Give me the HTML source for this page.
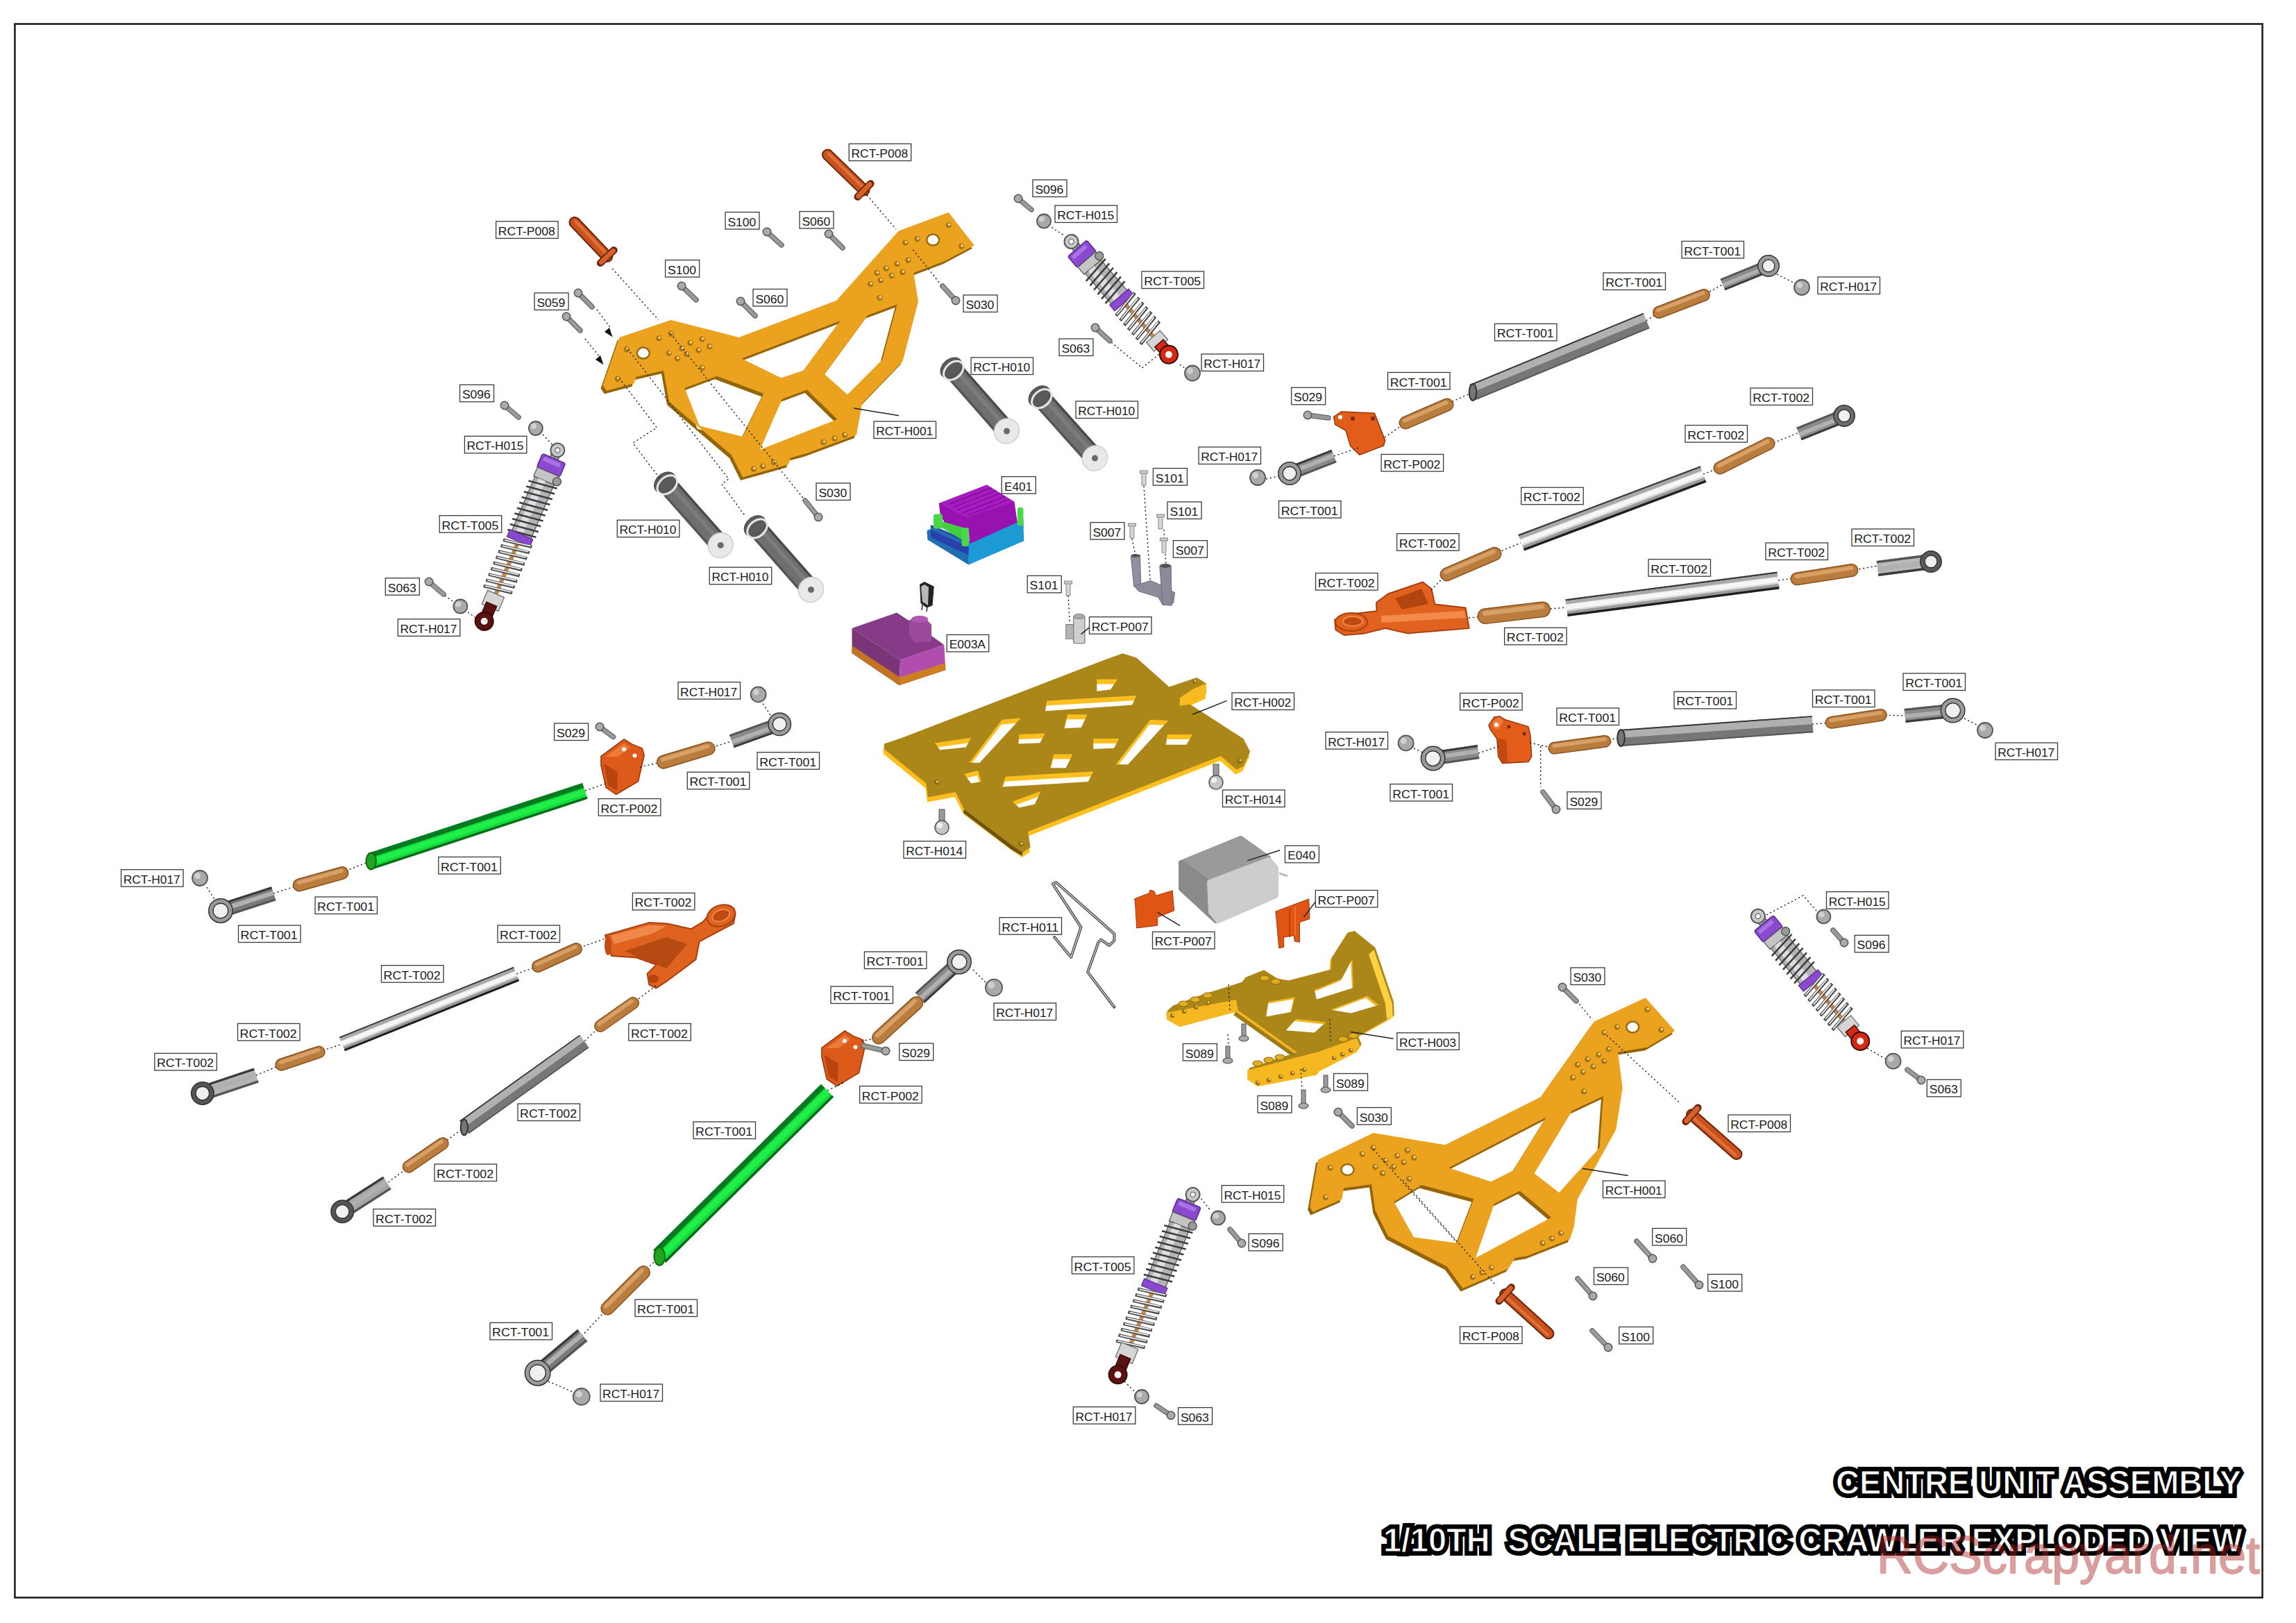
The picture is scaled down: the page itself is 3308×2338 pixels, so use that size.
<!DOCTYPE html>
<html><head><meta charset="utf-8"><title>Centre Unit Assembly</title>
<style>
html,body{margin:0;padding:0;background:#fff;}
body{width:3308px;height:2338px;overflow:hidden;}
svg{display:block;}
.lb{font-family:"Liberation Sans",sans-serif;font-size:16.3px;fill:#1a1a1a;}
.tt0{font-family:"Liberation Sans",sans-serif;font-weight:bold;font-size:48px;fill:#000;stroke:#000;stroke-width:12px;stroke-linejoin:miter;stroke-miterlimit:1.6;}
.tt1{font-family:"Liberation Sans",sans-serif;font-weight:bold;font-size:48px;fill:#fff;stroke:#000;stroke-width:1.2px;}
.wm{font-family:"Liberation Sans",sans-serif;font-size:76px;fill:#ad2424;stroke:#ad2424;stroke-width:1.8px;stroke-linejoin:round;opacity:0.44;}
</style></head><body>
<svg width="3308" height="2338" viewBox="0 0 3308 2338">
<rect width="3308" height="2338" fill="#fff"/>
<rect x="21.4" y="34.5" width="3238.2" height="2266.9" fill="none" stroke="#1f1f1f" stroke-width="2.6"/>
<path d="M892.4,486.0 L966.6,461.0 L1064.6,486.0 L1205.0,433.0 L1295.0,332.4 L1366.7,306.0 L1403.8,353.6 L1361.4,376.0 L1316.3,393.0 L1323.0,434.4 L1300.5,520.5 L1242.0,581.5 L1234.0,626.5 L1162.7,653.0 L1138.8,659.6 L1136.0,669.0 L1070.0,687.5 L1054.0,655.6 L964.0,578.8 L956.0,533.8 L916.2,543.0 L913.6,552.3 L873.8,563.0 L868.5,555.0ZM986.5,559.0 L1032.8,541.7 L1100.4,567.0 L1070.0,629.0 L1007.7,613.3ZM1127.0,574.8 L1162.7,561.6 L1206.4,604.0 L1095.0,647.7ZM1068.6,516.5 L1210.4,462.2 L1157.4,533.8 L1125.6,544.4ZM1187.8,539.0 L1250.0,454.3 L1292.5,438.4 L1271.3,517.9 L1221.0,568.2Z" fill="#946409" fill-rule="evenodd" transform="translate(-3.0,4.5)"/>
<path d="M892.4,486.0 L966.6,461.0 L1064.6,486.0 L1205.0,433.0 L1295.0,332.4 L1366.7,306.0 L1403.8,353.6 L1361.4,376.0 L1316.3,393.0 L1323.0,434.4 L1300.5,520.5 L1242.0,581.5 L1234.0,626.5 L1162.7,653.0 L1138.8,659.6 L1136.0,669.0 L1070.0,687.5 L1054.0,655.6 L964.0,578.8 L956.0,533.8 L916.2,543.0 L913.6,552.3 L873.8,563.0 L868.5,555.0ZM986.5,559.0 L1032.8,541.7 L1100.4,567.0 L1070.0,629.0 L1007.7,613.3ZM1127.0,574.8 L1162.7,561.6 L1206.4,604.0 L1095.0,647.7ZM1068.6,516.5 L1210.4,462.2 L1157.4,533.8 L1125.6,544.4ZM1187.8,539.0 L1250.0,454.3 L1292.5,438.4 L1271.3,517.9 L1221.0,568.2Z" fill="#eba21f" fill-rule="evenodd"/>
<circle cx="903.0" cy="503.3" r="4.2" fill="#a87510"/>
<circle cx="904.0" cy="502.3" r="1.9" fill="#f7d080"/>
<circle cx="889.7" cy="545.7" r="4.2" fill="#a87510"/>
<circle cx="890.7" cy="544.7" r="1.9" fill="#f7d080"/>
<circle cx="966.6" cy="480.8" r="4.2" fill="#a87510"/>
<circle cx="967.6" cy="479.8" r="1.9" fill="#f7d080"/>
<circle cx="949.4" cy="487.4" r="4.2" fill="#a87510"/>
<circle cx="950.4" cy="486.4" r="1.9" fill="#f7d080"/>
<circle cx="982.5" cy="502.0" r="4.2" fill="#a87510"/>
<circle cx="983.5" cy="501.0" r="1.9" fill="#f7d080"/>
<circle cx="994.4" cy="494.0" r="4.2" fill="#a87510"/>
<circle cx="995.4" cy="493.0" r="1.9" fill="#f7d080"/>
<circle cx="1011.6" cy="488.7" r="4.2" fill="#a87510"/>
<circle cx="1012.6" cy="487.7" r="1.9" fill="#f7d080"/>
<circle cx="1022.2" cy="499.3" r="4.2" fill="#a87510"/>
<circle cx="1023.2" cy="498.3" r="1.9" fill="#f7d080"/>
<circle cx="1006.3" cy="504.6" r="4.2" fill="#a87510"/>
<circle cx="1007.3" cy="503.6" r="1.9" fill="#f7d080"/>
<circle cx="989.1" cy="509.9" r="4.2" fill="#a87510"/>
<circle cx="990.1" cy="508.9" r="1.9" fill="#f7d080"/>
<circle cx="975.9" cy="516.5" r="4.2" fill="#a87510"/>
<circle cx="976.9" cy="515.5" r="1.9" fill="#f7d080"/>
<circle cx="963.9" cy="508.6" r="4.2" fill="#a87510"/>
<circle cx="964.9" cy="507.6" r="1.9" fill="#f7d080"/>
<circle cx="1011.6" cy="529.8" r="4.2" fill="#a87510"/>
<circle cx="1012.6" cy="528.8" r="1.9" fill="#f7d080"/>
<circle cx="1366.7" cy="324.4" r="4.2" fill="#a87510"/>
<circle cx="1367.7" cy="323.4" r="1.9" fill="#f7d080"/>
<circle cx="1304.4" cy="349.6" r="4.2" fill="#a87510"/>
<circle cx="1305.4" cy="348.6" r="1.9" fill="#f7d080"/>
<circle cx="1321.6" cy="344.3" r="4.2" fill="#a87510"/>
<circle cx="1322.6" cy="343.3" r="1.9" fill="#f7d080"/>
<circle cx="1385.2" cy="354.9" r="4.2" fill="#a87510"/>
<circle cx="1386.2" cy="353.9" r="1.9" fill="#f7d080"/>
<circle cx="1263.4" cy="393.3" r="4.2" fill="#a87510"/>
<circle cx="1264.4" cy="392.3" r="1.9" fill="#f7d080"/>
<circle cx="1276.6" cy="386.7" r="4.2" fill="#a87510"/>
<circle cx="1277.6" cy="385.7" r="1.9" fill="#f7d080"/>
<circle cx="1292.5" cy="380.1" r="4.2" fill="#a87510"/>
<circle cx="1293.5" cy="379.1" r="1.9" fill="#f7d080"/>
<circle cx="1308.4" cy="374.8" r="4.2" fill="#a87510"/>
<circle cx="1309.4" cy="373.8" r="1.9" fill="#f7d080"/>
<circle cx="1254.1" cy="409.2" r="4.2" fill="#a87510"/>
<circle cx="1255.1" cy="408.2" r="1.9" fill="#f7d080"/>
<circle cx="1268.7" cy="403.9" r="4.2" fill="#a87510"/>
<circle cx="1269.7" cy="402.9" r="1.9" fill="#f7d080"/>
<circle cx="1284.6" cy="397.3" r="4.2" fill="#a87510"/>
<circle cx="1285.6" cy="396.3" r="1.9" fill="#f7d080"/>
<circle cx="1300.5" cy="392.0" r="4.2" fill="#a87510"/>
<circle cx="1301.5" cy="391.0" r="1.9" fill="#f7d080"/>
<circle cx="1267.3" cy="429.1" r="4.2" fill="#a87510"/>
<circle cx="1268.3" cy="428.1" r="1.9" fill="#f7d080"/>
<circle cx="1186.5" cy="637.1" r="4.2" fill="#a87510"/>
<circle cx="1187.5" cy="636.1" r="1.9" fill="#f7d080"/>
<circle cx="1202.4" cy="631.8" r="4.2" fill="#a87510"/>
<circle cx="1203.4" cy="630.8" r="1.9" fill="#f7d080"/>
<circle cx="1217.0" cy="626.5" r="4.2" fill="#a87510"/>
<circle cx="1218.0" cy="625.5" r="1.9" fill="#f7d080"/>
<circle cx="1085.8" cy="675.5" r="4.2" fill="#a87510"/>
<circle cx="1086.8" cy="674.5" r="1.9" fill="#f7d080"/>
<circle cx="1099.1" cy="671.6" r="4.2" fill="#a87510"/>
<circle cx="1100.1" cy="670.6" r="1.9" fill="#f7d080"/>
<circle cx="1115.0" cy="666.4" r="4.2" fill="#a87510"/>
<circle cx="1116.0" cy="665.4" r="1.9" fill="#f7d080"/>
<ellipse cx="926.8" cy="508.6" rx="9" ry="8" fill="#fff" stroke="#9a6c0e" stroke-width="2.5"/>
<ellipse cx="1344.2" cy="345.6" rx="9" ry="8" fill="#fff" stroke="#9a6c0e" stroke-width="2.5"/>
<path d="M1899.1,1670.4 L1978.6,1632.0 L2082.0,1649.2 L2219.8,1580.3 L2296.6,1471.7 L2370.8,1437.2 L2413.2,1484.9 L2373.4,1508.8 L2331.0,1515.4 L2337.7,1567.0 L2328.4,1626.7 L2272.8,1727.4 L2267.8,1766.6 L2262.0,1785.0 L2201.0,1809.0 L2182.8,1812.0 L2175.7,1823.3 L2172.9,1827.5 L2107.7,1855.9 L2085.0,1824.7 L2000.0,1780.8 L1981.3,1743.3 L1976.0,1706.0 L1936.0,1711.5 L1933.6,1727.4 L1891.2,1746.0 L1887.2,1738.0ZM2008.5,1731.2 L2048.0,1707.0 L2123.3,1727.0 L2099.2,1790.7 L2036.8,1782.2ZM2153.0,1734.0 L2189.9,1715.6 L2235.2,1753.8 L2126.0,1812.0ZM2087.3,1682.3 L2227.7,1609.5 L2180.0,1686.3 L2148.2,1702.2ZM2210.5,1690.3 L2264.8,1600.2 L2309.9,1579.0 L2304.6,1653.2 L2246.3,1718.0Z" fill="#946409" fill-rule="evenodd" transform="translate(-3.0,4.5)"/>
<path d="M1899.1,1670.4 L1978.6,1632.0 L2082.0,1649.2 L2219.8,1580.3 L2296.6,1471.7 L2370.8,1437.2 L2413.2,1484.9 L2373.4,1508.8 L2331.0,1515.4 L2337.7,1567.0 L2328.4,1626.7 L2272.8,1727.4 L2267.8,1766.6 L2262.0,1785.0 L2201.0,1809.0 L2182.8,1812.0 L2175.7,1823.3 L2172.9,1827.5 L2107.7,1855.9 L2085.0,1824.7 L2000.0,1780.8 L1981.3,1743.3 L1976.0,1706.0 L1936.0,1711.5 L1933.6,1727.4 L1891.2,1746.0 L1887.2,1738.0ZM2008.5,1731.2 L2048.0,1707.0 L2123.3,1727.0 L2099.2,1790.7 L2036.8,1782.2ZM2153.0,1734.0 L2189.9,1715.6 L2235.2,1753.8 L2126.0,1812.0ZM2087.3,1682.3 L2227.7,1609.5 L2180.0,1686.3 L2148.2,1702.2ZM2210.5,1690.3 L2264.8,1600.2 L2309.9,1579.0 L2304.6,1653.2 L2246.3,1718.0Z" fill="#eba21f" fill-rule="evenodd"/>
<circle cx="1916.4" cy="1682.3" r="4.2" fill="#a87510"/>
<circle cx="1917.4" cy="1681.3" r="1.9" fill="#f7d080"/>
<circle cx="1909.7" cy="1724.7" r="4.2" fill="#a87510"/>
<circle cx="1910.7" cy="1723.7" r="1.9" fill="#f7d080"/>
<circle cx="1978.6" cy="1653.2" r="4.2" fill="#a87510"/>
<circle cx="1979.6" cy="1652.2" r="1.9" fill="#f7d080"/>
<circle cx="1962.7" cy="1662.5" r="4.2" fill="#a87510"/>
<circle cx="1963.7" cy="1661.5" r="1.9" fill="#f7d080"/>
<circle cx="2013.0" cy="1665.0" r="4.2" fill="#a87510"/>
<circle cx="2014.0" cy="1664.0" r="1.9" fill="#f7d080"/>
<circle cx="2027.7" cy="1657.2" r="4.2" fill="#a87510"/>
<circle cx="2028.7" cy="1656.2" r="1.9" fill="#f7d080"/>
<circle cx="2037.0" cy="1667.7" r="4.2" fill="#a87510"/>
<circle cx="2038.0" cy="1666.7" r="1.9" fill="#f7d080"/>
<circle cx="2022.4" cy="1674.4" r="4.2" fill="#a87510"/>
<circle cx="2023.4" cy="1673.4" r="1.9" fill="#f7d080"/>
<circle cx="2007.8" cy="1681.0" r="4.2" fill="#a87510"/>
<circle cx="2008.8" cy="1680.0" r="1.9" fill="#f7d080"/>
<circle cx="1991.9" cy="1690.3" r="4.2" fill="#a87510"/>
<circle cx="1992.9" cy="1689.3" r="1.9" fill="#f7d080"/>
<circle cx="1981.3" cy="1681.0" r="4.2" fill="#a87510"/>
<circle cx="1982.3" cy="1680.0" r="1.9" fill="#f7d080"/>
<circle cx="1995.9" cy="1671.7" r="4.2" fill="#a87510"/>
<circle cx="1996.9" cy="1670.7" r="1.9" fill="#f7d080"/>
<circle cx="2030.3" cy="1698.2" r="4.2" fill="#a87510"/>
<circle cx="2031.3" cy="1697.2" r="1.9" fill="#f7d080"/>
<circle cx="2373.4" cy="1454.4" r="4.2" fill="#a87510"/>
<circle cx="2374.4" cy="1453.4" r="1.9" fill="#f7d080"/>
<circle cx="2311.2" cy="1487.6" r="4.2" fill="#a87510"/>
<circle cx="2312.2" cy="1486.6" r="1.9" fill="#f7d080"/>
<circle cx="2329.7" cy="1479.6" r="4.2" fill="#a87510"/>
<circle cx="2330.7" cy="1478.6" r="1.9" fill="#f7d080"/>
<circle cx="2393.3" cy="1483.6" r="4.2" fill="#a87510"/>
<circle cx="2394.3" cy="1482.6" r="1.9" fill="#f7d080"/>
<circle cx="2272.8" cy="1533.9" r="4.2" fill="#a87510"/>
<circle cx="2273.8" cy="1532.9" r="1.9" fill="#f7d080"/>
<circle cx="2287.3" cy="1526.0" r="4.2" fill="#a87510"/>
<circle cx="2288.3" cy="1525.0" r="1.9" fill="#f7d080"/>
<circle cx="2303.2" cy="1519.4" r="4.2" fill="#a87510"/>
<circle cx="2304.2" cy="1518.4" r="1.9" fill="#f7d080"/>
<circle cx="2317.8" cy="1511.4" r="4.2" fill="#a87510"/>
<circle cx="2318.8" cy="1510.4" r="1.9" fill="#f7d080"/>
<circle cx="2266.1" cy="1552.5" r="4.2" fill="#a87510"/>
<circle cx="2267.1" cy="1551.5" r="1.9" fill="#f7d080"/>
<circle cx="2280.7" cy="1544.5" r="4.2" fill="#a87510"/>
<circle cx="2281.7" cy="1543.5" r="1.9" fill="#f7d080"/>
<circle cx="2295.3" cy="1536.6" r="4.2" fill="#a87510"/>
<circle cx="2296.3" cy="1535.6" r="1.9" fill="#f7d080"/>
<circle cx="2311.2" cy="1528.6" r="4.2" fill="#a87510"/>
<circle cx="2312.2" cy="1527.6" r="1.9" fill="#f7d080"/>
<circle cx="2282.0" cy="1572.4" r="4.2" fill="#a87510"/>
<circle cx="2283.0" cy="1571.4" r="1.9" fill="#f7d080"/>
<circle cx="2222.4" cy="1791.0" r="4.2" fill="#a87510"/>
<circle cx="2223.4" cy="1790.0" r="1.9" fill="#f7d080"/>
<circle cx="2235.7" cy="1784.3" r="4.2" fill="#a87510"/>
<circle cx="2236.7" cy="1783.3" r="1.9" fill="#f7d080"/>
<circle cx="2248.9" cy="1776.4" r="4.2" fill="#a87510"/>
<circle cx="2249.9" cy="1775.4" r="1.9" fill="#f7d080"/>
<circle cx="2121.9" cy="1839.6" r="4.2" fill="#a87510"/>
<circle cx="2122.9" cy="1838.6" r="1.9" fill="#f7d080"/>
<circle cx="2135.3" cy="1833.2" r="4.2" fill="#a87510"/>
<circle cx="2136.3" cy="1832.2" r="1.9" fill="#f7d080"/>
<circle cx="2148.8" cy="1826.1" r="4.2" fill="#a87510"/>
<circle cx="2149.8" cy="1825.1" r="1.9" fill="#f7d080"/>
<ellipse cx="1941.5" cy="1685.0" rx="9" ry="8" fill="#fff" stroke="#9a6c0e" stroke-width="2.5"/>
<ellipse cx="2352.3" cy="1479.6" rx="9" ry="8" fill="#fff" stroke="#9a6c0e" stroke-width="2.5"/>
<path d="M1273.7,1071.5 L1299.7,1062.8 L1590.2,951.1 L1617.5,941.2 L1637.4,947.4 L1684.5,989.6 L1724.3,975.9 L1737.9,984.6 L1737.9,999.5 L1699.4,1016.9 L1714.3,1014.4 L1791.3,1064.0 L1801.2,1082.7 L1791.3,1103.8 L1781.4,1108.7 L1759.0,1088.9 L1481.0,1198.1 L1484.7,1220.5 L1473.5,1227.9 L1458.6,1218.0 L1389.0,1165.8 L1376.7,1141.0 L1337.0,1148.5 L1334.5,1128.6 L1273.7,1079.0ZM1346.9,1070.3 L1399.0,1062.8 L1391.6,1076.5 L1354.3,1080.2ZM1443.7,1036.8 L1471.0,1034.3 L1411.4,1098.8 L1396.5,1098.8ZM1468.5,1057.9 L1505.8,1056.6 L1498.3,1070.3 L1467.3,1071.5ZM1508.3,1009.4 L1637.4,1002.0 L1631.2,1015.6 L1505.8,1024.3ZM1580.3,978.4 L1610.0,978.4 L1600.1,993.3 L1580.3,995.8ZM1538.0,1029.3 L1566.6,1029.3 L1557.9,1047.9 L1533.1,1049.2ZM1575.3,1064.0 L1612.5,1064.0 L1605.0,1077.7 L1575.3,1079.0ZM1657.2,1036.8 L1683.3,1038.0 L1625.0,1101.3 L1607.6,1101.3ZM1682.0,1057.9 L1718.0,1057.9 L1709.4,1072.7 L1679.6,1072.7ZM1518.2,1086.4 L1545.5,1086.4 L1535.6,1106.3 L1513.2,1106.3ZM1448.7,1118.7 L1575.3,1111.2 L1567.8,1126.1 L1443.7,1133.6ZM1389.0,1115.0 L1409.0,1110.0 L1414.0,1126.0 L1399.0,1128.6ZM1458.6,1154.7 L1499.6,1139.8 L1490.9,1158.4 L1468.5,1163.4Z" fill="#fcbf1e" fill-rule="evenodd" transform="translate(-1,7)"/>
<path d="M1273.7,1071.5 L1299.7,1062.8 L1590.2,951.1 L1617.5,941.2 L1637.4,947.4 L1684.5,989.6 L1724.3,975.9 L1737.9,984.6 L1737.9,999.5 L1699.4,1016.9 L1714.3,1014.4 L1791.3,1064.0 L1801.2,1082.7 L1791.3,1103.8 L1781.4,1108.7 L1759.0,1088.9 L1481.0,1198.1 L1484.7,1220.5 L1473.5,1227.9 L1458.6,1218.0 L1389.0,1165.8 L1376.7,1141.0 L1337.0,1148.5 L1334.5,1128.6 L1273.7,1079.0ZM1346.9,1070.3 L1399.0,1062.8 L1391.6,1076.5 L1354.3,1080.2ZM1443.7,1036.8 L1471.0,1034.3 L1411.4,1098.8 L1396.5,1098.8ZM1468.5,1057.9 L1505.8,1056.6 L1498.3,1070.3 L1467.3,1071.5ZM1508.3,1009.4 L1637.4,1002.0 L1631.2,1015.6 L1505.8,1024.3ZM1580.3,978.4 L1610.0,978.4 L1600.1,993.3 L1580.3,995.8ZM1538.0,1029.3 L1566.6,1029.3 L1557.9,1047.9 L1533.1,1049.2ZM1575.3,1064.0 L1612.5,1064.0 L1605.0,1077.7 L1575.3,1079.0ZM1657.2,1036.8 L1683.3,1038.0 L1625.0,1101.3 L1607.6,1101.3ZM1682.0,1057.9 L1718.0,1057.9 L1709.4,1072.7 L1679.6,1072.7ZM1518.2,1086.4 L1545.5,1086.4 L1535.6,1106.3 L1513.2,1106.3ZM1448.7,1118.7 L1575.3,1111.2 L1567.8,1126.1 L1443.7,1133.6ZM1389.0,1115.0 L1409.0,1110.0 L1414.0,1126.0 L1399.0,1128.6ZM1458.6,1154.7 L1499.6,1139.8 L1490.9,1158.4 L1468.5,1163.4Z" fill="#ab8618" fill-rule="evenodd"/>
<polygon points="1389.0,1165.8 1458.6,1218.0 1473.5,1227.9 1472.5,1233.0 1456.0,1223.0 1388.0,1171.0" fill="#6e5410"/>
<polygon points="1699.4,1016.9 1737.9,999.5 1737.9,984.6 1720.0,992.0 1700.0,1005.0" fill="#f8bb22"/>
<circle cx="1349.5" cy="1127.0" r="3.5" fill="#8a6a10"/>
<circle cx="1350.5" cy="1126.0" r="1.6" fill="#f7d080"/>
<circle cx="1471.0" cy="1216.0" r="3.5" fill="#8a6a10"/>
<circle cx="1472.0" cy="1215.0" r="1.6" fill="#f7d080"/>
<circle cx="1786.0" cy="1096.0" r="3.5" fill="#8a6a10"/>
<circle cx="1787.0" cy="1095.0" r="1.6" fill="#f7d080"/>
<circle cx="1721.0" cy="982.0" r="3.0" fill="#8a6a10"/>
<circle cx="1722.0" cy="981.0" r="1.4" fill="#f7d080"/>
<path d="M1679.9,1459.1 L1688.1,1451.6 L1729.5,1435.9 L1787.4,1417.7 L1792.4,1411.1 L1818.9,1400.3 L1838.7,1412.8 L1855.3,1415.2 L1915.7,1399.5 L1916.5,1383.0 L1939.7,1346.6 L1949.6,1344.1 L1979.4,1368.1 L2005.9,1445.9 L2006.7,1465.7 L1954.6,1495.5 L1959.6,1507.1 L1954.6,1515.4 L1900.0,1543.5 L1896.7,1548.5 L1812.3,1565.0 L1797.4,1555.1 L1797.4,1541.8 L1866.9,1518.7 L1780.8,1457.4 L1699.7,1479.0 L1681.5,1469.0ZM1825.5,1445.9 L1863.6,1439.2 L1858.6,1460.8 L1822.2,1467.4ZM1850.3,1487.2 L1865.2,1470.7 L1908.3,1475.6 L1891.7,1490.5ZM1891.7,1429.3 L1931.4,1412.8 L1946.3,1384.6 L1948.0,1426.0 L1895.0,1442.5ZM1914.9,1457.4 L1967.9,1437.6 L1984.4,1450.8 L1944.7,1462.4Z" fill="#f3b41e" fill-rule="evenodd"/>
<path d="M1679.9,1459.1 L1688.1,1451.6 L1729.5,1435.9 L1787.4,1417.7 L1792.4,1411.1 L1818.9,1400.3 L1838.7,1412.8 L1855.3,1415.2 L1915.7,1399.5 L1916.5,1383.0 L1939.7,1346.6 L1949.6,1344.1 L1979.4,1368.1 L2005.9,1445.9 L2006.7,1465.7 L1954.6,1495.5 L1959.6,1507.1 L1954.6,1515.4 L1900.0,1543.5 L1896.7,1548.5 L1812.3,1565.0 L1797.4,1555.1 L1797.4,1541.8 L1866.9,1518.7 L1780.8,1457.4 L1699.7,1479.0 L1681.5,1469.0ZM1825.5,1445.9 L1863.6,1439.2 L1858.6,1460.8 L1822.2,1467.4ZM1850.3,1487.2 L1865.2,1470.7 L1908.3,1475.6 L1891.7,1490.5ZM1891.7,1429.3 L1931.4,1412.8 L1946.3,1384.6 L1948.0,1426.0 L1895.0,1442.5ZM1914.9,1457.4 L1967.9,1437.6 L1984.4,1450.8 L1944.7,1462.4Z" fill="#ab8618" fill-rule="evenodd" transform="translate(2,-3)"/>
<polygon points="1679.9,1459.1 1781.0,1440.0 1784.0,1457.0 1699.7,1479.0 1681.5,1469.0" fill="#f5b820"/>
<polygon points="1797.4,1541.8 1900.0,1515.0 1954.6,1495.5 1959.6,1507.1 1954.6,1515.4 1900.0,1543.5 1896.7,1548.5 1812.3,1565.0 1797.4,1555.1" fill="#f5b820"/>
<polygon points="1979.4,1368.1 2005.9,1445.9 2006.7,1465.7 1998.0,1468.0 1996.0,1446.0 1972.0,1375.0" fill="#ffd040"/>
<polygon points="1780.8,1457.4 1866.9,1518.7 1862.0,1522.0 1777.0,1462.0" fill="#a07a12"/>
<circle cx="1689.0" cy="1463.0" r="3.2" fill="#9a7010"/>
<circle cx="1690.0" cy="1462.0" r="1.4" fill="#f7d080"/>
<circle cx="1706.0" cy="1457.0" r="3.2" fill="#9a7010"/>
<circle cx="1707.0" cy="1456.0" r="1.4" fill="#f7d080"/>
<circle cx="1723.0" cy="1451.0" r="3.2" fill="#9a7010"/>
<circle cx="1724.0" cy="1450.0" r="1.4" fill="#f7d080"/>
<circle cx="1740.0" cy="1445.0" r="3.2" fill="#9a7010"/>
<circle cx="1741.0" cy="1444.0" r="1.4" fill="#f7d080"/>
<circle cx="1812.0" cy="1560.0" r="3.2" fill="#9a7010"/>
<circle cx="1813.0" cy="1559.0" r="1.4" fill="#f7d080"/>
<circle cx="1828.0" cy="1556.0" r="3.2" fill="#9a7010"/>
<circle cx="1829.0" cy="1555.0" r="1.4" fill="#f7d080"/>
<circle cx="1845.0" cy="1551.0" r="3.2" fill="#9a7010"/>
<circle cx="1846.0" cy="1550.0" r="1.4" fill="#f7d080"/>
<circle cx="1862.0" cy="1546.0" r="3.2" fill="#9a7010"/>
<circle cx="1863.0" cy="1545.0" r="1.4" fill="#f7d080"/>
<circle cx="1879.0" cy="1541.0" r="3.2" fill="#9a7010"/>
<circle cx="1880.0" cy="1540.0" r="1.4" fill="#f7d080"/>
<circle cx="1922.0" cy="1524.0" r="3.2" fill="#9a7010"/>
<circle cx="1923.0" cy="1523.0" r="1.4" fill="#f7d080"/>
<circle cx="1934.0" cy="1519.0" r="3.2" fill="#9a7010"/>
<circle cx="1935.0" cy="1518.0" r="1.4" fill="#f7d080"/>
<circle cx="1946.0" cy="1513.0" r="3.2" fill="#9a7010"/>
<circle cx="1947.0" cy="1512.0" r="1.4" fill="#f7d080"/>
<ellipse cx="1705.0" cy="1446.0" rx="7" ry="4" fill="#dfae22" stroke="#9a7010" stroke-width="1.2"/>
<ellipse cx="1722.0" cy="1440.0" rx="7" ry="4" fill="#dfae22" stroke="#9a7010" stroke-width="1.2"/>
<ellipse cx="1740.0" cy="1434.0" rx="7" ry="4" fill="#dfae22" stroke="#9a7010" stroke-width="1.2"/>
<ellipse cx="1822.0" cy="1409.0" rx="7" ry="4" fill="#dfae22" stroke="#9a7010" stroke-width="1.2"/>
<ellipse cx="1838.0" cy="1414.0" rx="7" ry="4" fill="#dfae22" stroke="#9a7010" stroke-width="1.2"/>
<ellipse cx="1812.0" cy="1532.0" rx="7" ry="4" fill="#dfae22" stroke="#9a7010" stroke-width="1.2"/>
<ellipse cx="1828.0" cy="1527.0" rx="7" ry="4" fill="#dfae22" stroke="#9a7010" stroke-width="1.2"/>
<ellipse cx="1844.0" cy="1523.0" rx="7" ry="4" fill="#dfae22" stroke="#9a7010" stroke-width="1.2"/>
<ellipse cx="1935.0" cy="1497.0" rx="7" ry="4" fill="#dfae22" stroke="#9a7010" stroke-width="1.2"/>
<ellipse cx="1950.0" cy="1492.0" rx="7" ry="4" fill="#dfae22" stroke="#9a7010" stroke-width="1.2"/>
<polygon points="947.5,704.1 1027.7,794.7 1048.7,776.1 968.5,685.5" fill="#6f6f6f"/>
<polygon points="968.5,685.5 1048.7,776.1 1046.2,778.3 966.0,687.7" fill="#4a4a4a"/>
<polygon points="962.2,691.1 1042.4,781.7 1038.2,785.4 958.0,694.8" fill="#7c7c7c"/>
<polygon points="950.0,701.9 1030.2,792.5 1027.7,794.7 947.5,704.1" fill="#555"/>
<ellipse cx="958.0" cy="694.8" rx="17.4" ry="12.6" transform="rotate(138.5 958.0 694.8)" fill="#5a5a5a" stroke="#444" stroke-width="1"/>
<ellipse cx="961.3" cy="698.5" rx="16.2" ry="11.2" transform="rotate(138.5 961.3 698.5)" fill="none" stroke="#e6e6e6" stroke-width="3"/>
<ellipse cx="1038.2" cy="785.4" rx="18.5" ry="17.4" transform="rotate(138.5 1038.2 785.4)" fill="#e9e9e9" stroke="#cfcfcf" stroke-width="1.5"/>
<circle cx="1038.2" cy="785.4" r="4.5" fill="#6a6a6a"/>
<polygon points="1077.2,766.8 1158.0,858.7 1179.0,840.3 1098.2,748.4" fill="#6f6f6f"/>
<polygon points="1098.2,748.4 1179.0,840.3 1176.5,842.5 1095.7,750.6" fill="#4a4a4a"/>
<polygon points="1091.9,753.9 1172.7,845.8 1168.5,849.5 1087.7,757.6" fill="#7c7c7c"/>
<polygon points="1079.7,764.6 1160.5,856.5 1158.0,858.7 1077.2,766.8" fill="#555"/>
<ellipse cx="1087.7" cy="757.6" rx="17.4" ry="12.6" transform="rotate(138.7 1087.7 757.6)" fill="#5a5a5a" stroke="#444" stroke-width="1"/>
<ellipse cx="1091.0" cy="761.4" rx="16.2" ry="11.2" transform="rotate(138.7 1091.0 761.4)" fill="none" stroke="#e6e6e6" stroke-width="3"/>
<ellipse cx="1168.5" cy="849.5" rx="18.5" ry="17.4" transform="rotate(138.7 1168.5 849.5)" fill="#e9e9e9" stroke="#cfcfcf" stroke-width="1.5"/>
<circle cx="1168.5" cy="849.5" r="4.5" fill="#6a6a6a"/>
<polygon points="1360.0,539.2 1440.0,630.2 1461.0,611.8 1381.0,520.8" fill="#6f6f6f"/>
<polygon points="1381.0,520.8 1461.0,611.8 1458.5,614.0 1378.5,523.0" fill="#4a4a4a"/>
<polygon points="1374.7,526.3 1454.7,617.3 1450.5,621.0 1370.5,530.0" fill="#7c7c7c"/>
<polygon points="1362.5,537.0 1442.5,628.0 1440.0,630.2 1360.0,539.2" fill="#555"/>
<ellipse cx="1370.5" cy="530.0" rx="17.4" ry="12.6" transform="rotate(138.7 1370.5 530.0)" fill="#5a5a5a" stroke="#444" stroke-width="1"/>
<ellipse cx="1373.8" cy="533.8" rx="16.2" ry="11.2" transform="rotate(138.7 1373.8 533.8)" fill="none" stroke="#e6e6e6" stroke-width="3"/>
<ellipse cx="1450.5" cy="621.0" rx="18.5" ry="17.4" transform="rotate(138.7 1450.5 621.0)" fill="#e9e9e9" stroke="#cfcfcf" stroke-width="1.5"/>
<circle cx="1450.5" cy="621.0" r="4.5" fill="#6a6a6a"/>
<polygon points="1487.1,579.9 1567.1,669.3 1587.9,650.7 1507.9,561.3" fill="#6f6f6f"/>
<polygon points="1507.9,561.3 1587.9,650.7 1585.4,652.9 1505.4,563.5" fill="#4a4a4a"/>
<polygon points="1501.7,566.9 1581.7,656.3 1577.5,660.0 1497.5,570.6" fill="#7c7c7c"/>
<polygon points="1489.6,577.7 1569.6,667.1 1567.1,669.3 1487.1,579.9" fill="#555"/>
<ellipse cx="1497.5" cy="570.6" rx="17.4" ry="12.6" transform="rotate(138.2 1497.5 570.6)" fill="#5a5a5a" stroke="#444" stroke-width="1"/>
<ellipse cx="1500.8" cy="574.3" rx="16.2" ry="11.2" transform="rotate(138.2 1500.8 574.3)" fill="none" stroke="#e6e6e6" stroke-width="3"/>
<ellipse cx="1577.5" cy="660.0" rx="18.5" ry="17.4" transform="rotate(138.2 1577.5 660.0)" fill="#e9e9e9" stroke="#cfcfcf" stroke-width="1.5"/>
<circle cx="1577.5" cy="660.0" r="4.5" fill="#6a6a6a"/>
<polygon points="1395.9,779.0 1474.4,747.0 1474.4,760.0 1395.9,792.0" fill="#1c9ad4"/>
<polygon points="1341.0,756.0 1395.9,779.0 1395.9,792.0 1341.0,768.0" fill="#2a3fae"/>
<polygon points="1335.5,764.5 1345.9,759.4 1395.9,783.5 1395.9,813.7 1336.4,777.5" fill="#1f6fb0"/>
<polygon points="1341.0,763.0 1395.9,788.0 1395.9,800.0 1341.0,774.0" fill="#2a3fae"/>
<polygon points="1395.9,783.5 1474.4,752.5 1475.3,779.2 1395.0,813.7" fill="#1c9ad4"/>
<polygon points="1352.8,724.9 1421.8,698.5 1461.5,723.1 1465.8,752.5 1396.8,783.5 1395.9,762.8 1360.5,752.5 1354.5,740.4" fill="#9812b0"/>
<polygon points="1352.8,724.9 1421.8,698.5 1461.5,723.1 1393.0,746.0" fill="#a61cc0"/>
<line x1="1428.4" y1="702.6" x2="1366.4" y2="726.6" stroke="#7a0a92" stroke-width="1.2"/>
<line x1="1435.0" y1="706.7" x2="1373.0" y2="730.7" stroke="#7a0a92" stroke-width="1.2"/>
<line x1="1441.7" y1="710.8" x2="1379.7" y2="734.8" stroke="#7a0a92" stroke-width="1.2"/>
<line x1="1448.3" y1="714.9" x2="1386.3" y2="738.9" stroke="#7a0a92" stroke-width="1.2"/>
<line x1="1454.9" y1="719.0" x2="1392.9" y2="743.0" stroke="#7a0a92" stroke-width="1.2"/>
<polygon points="1358.0,751.6 1395.9,762.8 1395.9,783.5 1358.0,761.0" fill="#3fcf3f"/>
<rect x="1345" y="740.4" width="13" height="21" rx="3" fill="#4ad84a"/>
<rect x="1385.5" y="760.2" width="10.4" height="26.8" rx="3" fill="#4ad84a"/>
<rect x="1465.8" y="730.9" width="8.6" height="26.7" rx="3" fill="#4ad84a"/>
<polygon points="1227.5,905.1 1292.1,882.5 1342.2,916.1 1360.3,929.1 1297.1,950.7" fill="#873a87"/>
<polygon points="1227.5,905.1 1297.1,950.7 1295.6,987.2 1227.5,941.1" fill="#7a3478"/>
<polygon points="1297.1,950.7 1360.3,929.1 1362.3,965.2 1295.6,987.2" fill="#b24db0"/>
<polygon points="1227.5,930.0 1295.6,975.0 1295.6,987.2 1227.5,941.1" fill="#c27422"/>
<polygon points="1295.6,976.0 1362.3,955.0 1362.3,965.2 1295.6,987.2" fill="#cf7f22"/>
<polygon points="1310.0,893.0 1332.0,889.0 1342.0,900.0 1342.0,924.0 1318.0,926.0 1310.0,915.0" fill="#9a4a9a"/>
<ellipse cx="1325" cy="892" rx="12" ry="5" fill="#b055b0"/>
<polygon points="1325.6,842.0 1332.0,838.6 1345.2,845.0 1343.0,872.0 1335.0,875.0 1327.0,869.0" fill="#222" stroke="#222" stroke-width="1"/>
<polygon points="1327.0,845.0 1332.0,842.0 1338.0,846.0 1337.0,872.0 1329.0,867.0" fill="#b8b8b8"/>
<line x1="1329" y1="871" x2="1328" y2="879" stroke="#222" stroke-width="1.5"/><line x1="1336" y1="874" x2="1335" y2="881" stroke="#222" stroke-width="1.5"/>
<polygon points="1702.0,1243.0 1787.5,1208.0 1827.0,1236.0 1739.5,1270.0" fill="#9a9a9a" stroke="#9a9a9a" stroke-width="8" stroke-linejoin="round"/>
<polygon points="1702.0,1243.0 1739.5,1270.0 1752.0,1326.0 1702.0,1280.0" fill="#8a8a8a" stroke="#8a8a8a" stroke-width="8" stroke-linejoin="round"/>
<polygon points="1743.0,1271.0 1828.0,1239.0 1838.0,1250.0 1838.0,1290.0 1755.0,1326.0 1745.0,1314.0" fill="#cdcdcd" stroke="#cdcdcd" stroke-width="8" stroke-linejoin="round"/>
<line x1="1843" y1="1258" x2="1855" y2="1262" stroke="#bbb" stroke-width="3"/>
<polygon points="1634.1,1295.0 1655.7,1286.6 1657.0,1282.0 1663.0,1284.0 1665.3,1290.2 1689.2,1283.0 1691.6,1311.8 1667.7,1321.3 1667.7,1333.3 1637.7,1336.9 1635.3,1297.4" fill="#e05514" stroke="#a03a0a" stroke-width="1"/>
<polygon points="1837.8,1313.0 1885.7,1295.0 1886.9,1323.7 1872.5,1328.5 1872.5,1357.3 1865.3,1356.0 1864.1,1347.7 1849.7,1350.0 1849.7,1364.5 1842.6,1365.7 1839.0,1323.7" fill="#e05514" stroke="#a03a0a" stroke-width="1"/>
<line x1="1858" y1="1309" x2="1858" y2="1350" stroke="#b8400c" stroke-width="2"/><line x1="1866" y1="1306" x2="1866" y2="1348" stroke="#f07030" stroke-width="2"/>
<rect x="1535.8" y="899.5" width="13" height="20.7" fill="#b4b4b4" stroke="#777" stroke-width="1"/>
<rect x="1546.7" y="887" width="16.3" height="40" rx="3" fill="#cfcfcf" stroke="#777" stroke-width="1.2"/>
<ellipse cx="1554.8" cy="888" rx="8" ry="3.5" fill="#aaa" stroke="#777" stroke-width="1"/>
<polygon points="1633.8,834.2 1644.6,840.7 1657.7,836.4 1673.0,842.9 1692.6,853.8 1690.4,869.1 1675.1,871.2 1668.6,860.3 1640.3,851.6 1634.9,845.1" fill="#8c8c9a" stroke="#6a6a78" stroke-width="1"/>
<polygon points="1629.4,801.5 1642.5,799.4 1643.6,840.7 1633.8,845.1" fill="#9090a0" stroke="#6a6a78" stroke-width="1"/>
<polygon points="1670.8,815.7 1687.1,814.6 1688.2,872.3 1675.1,871.2" fill="#8a8a98" stroke="#6a6a78" stroke-width="1"/>
<ellipse cx="1636" cy="800.5" rx="6.5" ry="2.5" fill="#555"/><ellipse cx="1679" cy="815" rx="8" ry="3" fill="#555"/>
<rect x="1353.0" y="1166.0" width="8" height="20" fill="#9a9a9a" stroke="#555" stroke-width="1"/>
<circle cx="1357.0" cy="1192.0" r="10" fill="#c6c6c6" stroke="#555" stroke-width="1.5"/>
<circle cx="1354.0" cy="1189.0" r="4" fill="#f0f0f0"/>
<rect x="1748.0" y="1101.0" width="8" height="20" fill="#9a9a9a" stroke="#555" stroke-width="1"/>
<circle cx="1752.0" cy="1127.0" r="10" fill="#c6c6c6" stroke="#555" stroke-width="1.5"/>
<circle cx="1749.0" cy="1124.0" r="4" fill="#f0f0f0"/>
<polyline points="1519.2,1350.0 1543.1,1378.8 1557.5,1335.7 1516.8,1273.4 1521.6,1271.0 1605.4,1345.3 1605.4,1354.9 1598.2,1362.0 1586.2,1353.7 1582.6,1357.3 1567.1,1400.4 1605.4,1450.7" fill="none" stroke="#4a4a4a" stroke-width="4" stroke-linejoin="round" stroke-linecap="round"/>
<polyline points="1519.2,1350.0 1543.1,1378.8 1557.5,1335.7 1516.8,1273.4 1521.6,1271.0 1605.4,1345.3 1605.4,1354.9 1598.2,1362.0 1586.2,1353.7 1582.6,1357.3 1567.1,1400.4 1605.4,1450.7" fill="none" stroke="#d8d8d8" stroke-width="1.3" stroke-linejoin="round"/>
<line x1="874.8" y1="369.6" x2="828.0" y2="320.4" stroke="#6a2508" stroke-width="17.0" stroke-linecap="round"/>
<line x1="874.8" y1="369.6" x2="828.0" y2="320.4" stroke="#c9521c" stroke-width="13.0" stroke-linecap="round"/>
<line x1="876.2" y1="368.2" x2="829.4" y2="319.0" stroke="#e0703a" stroke-width="4.2" stroke-linecap="round"/>
<line x1="884.4" y1="360.4" x2="865.2" y2="378.8" stroke="#6a2508" stroke-width="10.5" stroke-linecap="round"/>
<line x1="883.3" y1="361.5" x2="866.3" y2="377.7" stroke="#d8602a" stroke-width="7.0" stroke-linecap="round"/>
<line x1="1245.0" y1="274.0" x2="1192.5" y2="223.0" stroke="#6a2508" stroke-width="17.0" stroke-linecap="round"/>
<line x1="1245.0" y1="274.0" x2="1192.5" y2="223.0" stroke="#c9521c" stroke-width="13.0" stroke-linecap="round"/>
<line x1="1246.4" y1="272.6" x2="1193.9" y2="221.6" stroke="#e0703a" stroke-width="4.2" stroke-linecap="round"/>
<line x1="1254.3" y1="264.5" x2="1235.7" y2="283.5" stroke="#6a2508" stroke-width="10.5" stroke-linecap="round"/>
<line x1="1253.2" y1="265.5" x2="1236.8" y2="282.5" stroke="#d8602a" stroke-width="7.0" stroke-linecap="round"/>
<line x1="2437.5" y1="1605.8" x2="2502.0" y2="1662.6" stroke="#6a2508" stroke-width="17.0" stroke-linecap="round"/>
<line x1="2437.5" y1="1605.8" x2="2502.0" y2="1662.6" stroke="#c9521c" stroke-width="13.0" stroke-linecap="round"/>
<line x1="2436.2" y1="1607.3" x2="2500.7" y2="1664.1" stroke="#e0703a" stroke-width="4.2" stroke-linecap="round"/>
<line x1="2428.7" y1="1615.8" x2="2446.3" y2="1595.8" stroke="#6a2508" stroke-width="10.5" stroke-linecap="round"/>
<line x1="2429.7" y1="1614.7" x2="2445.3" y2="1596.9" stroke="#d8602a" stroke-width="7.0" stroke-linecap="round"/>
<line x1="2168.6" y1="1864.4" x2="2231.0" y2="1921.0" stroke="#6a2508" stroke-width="17.0" stroke-linecap="round"/>
<line x1="2168.6" y1="1864.4" x2="2231.0" y2="1921.0" stroke="#c9521c" stroke-width="13.0" stroke-linecap="round"/>
<line x1="2167.3" y1="1865.9" x2="2229.7" y2="1922.5" stroke="#e0703a" stroke-width="4.2" stroke-linecap="round"/>
<line x1="2159.7" y1="1874.3" x2="2177.5" y2="1854.5" stroke="#6a2508" stroke-width="10.5" stroke-linecap="round"/>
<line x1="2160.7" y1="1873.1" x2="2176.5" y2="1855.7" stroke="#d8602a" stroke-width="7.0" stroke-linecap="round"/>
<polygon points="865.9,1089.4 899.2,1064.8 910.8,1072.1 925.3,1077.9 928.2,1088.0 919.5,1125.7 887.6,1144.5 873.1,1134.3 865.9,1102.5" fill="#dc5a1a" stroke="#9a3508" stroke-width="1.5" stroke-linejoin="round"/>
<polygon points="870.0,1100.0 890.0,1112.0 889.0,1139.0 876.0,1131.0" fill="#b8440f"/>
<polygon points="872.0,1090.0 899.0,1071.0 908.0,1077.0 890.0,1090.0" fill="#ee7a3a"/>
<circle cx="899.0" cy="1079.5" r="3" fill="#fff"/><circle cx="914.5" cy="1088.5" r="3" fill="#fff"/>
<polygon points="1183.9,1509.4 1217.2,1484.8 1228.8,1492.1 1243.3,1497.9 1246.2,1508.0 1237.5,1545.7 1205.6,1564.5 1191.1,1554.3 1183.9,1522.5" fill="#dc5a1a" stroke="#9a3508" stroke-width="1.5" stroke-linejoin="round"/>
<polygon points="1188.0,1520.0 1208.0,1532.0 1207.0,1559.0 1194.0,1551.0" fill="#b8440f"/>
<polygon points="1190.0,1510.0 1217.0,1491.0 1226.0,1497.0 1208.0,1510.0" fill="#ee7a3a"/>
<circle cx="1217.0" cy="1499.5" r="3" fill="#fff"/><circle cx="1232.5" cy="1508.5" r="3" fill="#fff"/>
<polygon points="2145.0,1044.7 2152.8,1032.9 2160.7,1031.9 2168.5,1036.8 2201.8,1046.6 2204.8,1058.4 2206.7,1089.8 2201.8,1097.6 2164.6,1099.6 2158.7,1089.8 2156.8,1064.3 2147.0,1050.6" fill="#e45c1a" stroke="#9a3508" stroke-width="1.5" stroke-linejoin="round"/>
<polygon points="2157.0,1064.0 2170.0,1066.0 2172.0,1097.0 2164.6,1099.6 2158.7,1089.8" fill="#c24a10"/>
<polygon points="2150.0,1040.0 2160.0,1033.0 2166.0,1038.0 2160.0,1050.0 2152.0,1049.0" fill="#f07a3a"/>
<circle cx="2156" cy="1044" r="3" fill="#fff"/><circle cx="2174" cy="1047" r="2.5" fill="#7a2a08"/><circle cx="2196" cy="1057" r="2.5" fill="#7a2a08"/>
<polygon points="1921.5,600.7 1932.4,593.1 1980.3,595.3 1982.5,600.7 1995.6,634.5 1993.4,642.1 1958.6,655.2 1945.5,642.1 1939.0,620.3 1923.7,611.6" fill="#e35d1a" stroke="#9a3508" stroke-width="1.5" stroke-linejoin="round"/>
<circle cx="1931" cy="601" r="3" fill="#fff"/><circle cx="1949" cy="603" r="3" fill="#7a2a08"/><circle cx="1978" cy="603" r="3" fill="#7a2a08"/>
<polygon points="871.8,1347.2 935.2,1329.1 961.1,1330.4 996.0,1338.2 1012.8,1327.8 1028.3,1309.7 1049.0,1304.5 1059.4,1317.5 1056.8,1330.4 1007.6,1356.3 1002.5,1382.1 961.1,1413.2 945.5,1423.5 935.2,1418.3 932.6,1402.8 945.5,1389.9 917.1,1379.5 880.9,1377.0" fill="#df621e" stroke="#a8400e" stroke-width="2" stroke-linejoin="round"/>
<polygon points="880.0,1348.0 935.0,1333.0 960.0,1334.0 940.0,1345.0 885.0,1360.0" fill="#f0884a"/>
<polygon points="900.0,1370.0 960.0,1350.0 990.0,1360.0 960.0,1395.0 917.0,1378.0" fill="#b54a12"/>
<ellipse cx="1039" cy="1319" rx="21" ry="15" fill="#df621e" stroke="#a8400e" stroke-width="2" transform="rotate(-20 1039 1319)"/>
<ellipse cx="1038.7" cy="1318.8" rx="13" ry="8" fill="#c04a12" stroke="#f08a4a" stroke-width="2" transform="rotate(-20 1038.7 1318.8)"/>
<ellipse cx="941" cy="1410" rx="8" ry="6" fill="#b8440f"/>
<ellipse cx="876" cy="1362" rx="5" ry="14" fill="#c44c12"/>
<polygon points="1923.1,892.7 1941.6,885.3 1983.5,880.3 1983.0,868.0 2000.3,855.2 2050.0,838.5 2062.4,848.3 2067.3,870.5 2111.6,875.4 2116.6,905.0 2027.9,912.4 1995.8,905.0 1966.2,912.4 1936.7,914.9 1924.4,907.5" fill="#e0621e" stroke="#a8400e" stroke-width="2" stroke-linejoin="round"/>
<polygon points="1990.0,887.0 2110.0,880.0 2112.0,890.0 1990.0,897.0" fill="#f28a4c"/>
<polygon points="2010.0,862.0 2048.0,848.0 2058.0,870.0 2020.0,878.0" fill="#b04510"/>
<ellipse cx="1947" cy="896" rx="23" ry="13" fill="#e0621e" stroke="#a8400e" stroke-width="2"/>
<ellipse cx="1949" cy="895" rx="14" ry="7" fill="#c04a12" stroke="#f08a4a" stroke-width="2"/>
<polyline points="882.2,386.9 948.7,460.8" fill="none" stroke="#222" stroke-width="1.4" stroke-dasharray="2.2,3.6"/>
<polyline points="860.0,446.0 880.0,473.0" fill="none" stroke="#222" stroke-width="1.4" stroke-dasharray="2.2,3.6"/>
<polyline points="842.8,488.0 865.0,515.0" fill="none" stroke="#222" stroke-width="1.4" stroke-dasharray="2.2,3.6"/>
<polyline points="892.0,544.6 946.3,616.0 911.8,638.2 951.2,690.0" fill="none" stroke="#222" stroke-width="1.4" stroke-dasharray="2.2,3.6"/>
<polyline points="904.4,502.7 1049.8,690.0 1040.0,697.4 1074.4,744.2" fill="none" stroke="#222" stroke-width="1.4" stroke-dasharray="2.2,3.6"/>
<polyline points="966.0,480.5 1160.0,721.0" fill="none" stroke="#222" stroke-width="1.4" stroke-dasharray="2.2,3.6"/>
<polyline points="1249.0,281.0 1290.8,330.0" fill="none" stroke="#222" stroke-width="1.4" stroke-dasharray="2.2,3.6"/>
<polyline points="1315.4,359.8 1354.8,409.0" fill="none" stroke="#222" stroke-width="1.4" stroke-dasharray="2.2,3.6"/>
<polyline points="1515.0,327.7 1534.7,340.0" fill="none" stroke="#222" stroke-width="1.4" stroke-dasharray="2.2,3.6"/>
<polyline points="1601.0,493.0 1645.6,530.0 1670.0,510.0" fill="none" stroke="#222" stroke-width="1.4" stroke-dasharray="2.2,3.6"/>
<polyline points="1699.8,525.0 1709.7,532.3" fill="none" stroke="#222" stroke-width="1.4" stroke-dasharray="2.2,3.6"/>
<polyline points="1824.0,690.0 1842.0,686.0" fill="none" stroke="#222" stroke-width="1.4" stroke-dasharray="2.2,3.6"/>
<polyline points="1922.0,657.0 1958.0,645.0" fill="none" stroke="#222" stroke-width="1.4" stroke-dasharray="2.2,3.6"/>
<polyline points="1995.0,630.0 2021.0,612.0" fill="none" stroke="#222" stroke-width="1.4" stroke-dasharray="2.2,3.6"/>
<polyline points="2087.0,581.0 2122.0,565.0" fill="none" stroke="#222" stroke-width="1.4" stroke-dasharray="2.2,3.6"/>
<polyline points="2372.0,462.0 2390.0,450.0" fill="none" stroke="#222" stroke-width="1.4" stroke-dasharray="2.2,3.6"/>
<polyline points="2458.0,423.0 2482.0,410.0" fill="none" stroke="#222" stroke-width="1.4" stroke-dasharray="2.2,3.6"/>
<polyline points="2560.0,395.0 2590.0,410.0" fill="none" stroke="#222" stroke-width="1.4" stroke-dasharray="2.2,3.6"/>
<polyline points="2062.0,850.0 2084.0,827.0" fill="none" stroke="#222" stroke-width="1.4" stroke-dasharray="2.2,3.6"/>
<polyline points="2153.0,798.0 2191.0,782.0" fill="none" stroke="#222" stroke-width="1.4" stroke-dasharray="2.2,3.6"/>
<polyline points="2454.0,683.0 2477.0,674.0" fill="none" stroke="#222" stroke-width="1.4" stroke-dasharray="2.2,3.6"/>
<polyline points="2550.0,640.0 2590.0,624.0" fill="none" stroke="#222" stroke-width="1.4" stroke-dasharray="2.2,3.6"/>
<polyline points="2116.0,890.0 2140.0,888.0" fill="none" stroke="#222" stroke-width="1.4" stroke-dasharray="2.2,3.6"/>
<polyline points="2222.0,878.0 2257.0,875.0" fill="none" stroke="#222" stroke-width="1.4" stroke-dasharray="2.2,3.6"/>
<polyline points="2562.0,836.0 2591.0,832.0" fill="none" stroke="#222" stroke-width="1.4" stroke-dasharray="2.2,3.6"/>
<polyline points="2667.0,822.0 2705.0,815.0" fill="none" stroke="#222" stroke-width="1.4" stroke-dasharray="2.2,3.6"/>
<polyline points="2037.0,1078.0 2052.0,1085.0" fill="none" stroke="#222" stroke-width="1.4" stroke-dasharray="2.2,3.6"/>
<polyline points="2130.0,1085.0 2160.0,1075.0" fill="none" stroke="#222" stroke-width="1.4" stroke-dasharray="2.2,3.6"/>
<polyline points="2204.0,1070.0 2240.0,1078.0" fill="none" stroke="#222" stroke-width="1.4" stroke-dasharray="2.2,3.6"/>
<polyline points="2219.7,1075.0 2219.7,1134.0" fill="none" stroke="#222" stroke-width="1.4" stroke-dasharray="2.2,3.6"/>
<polyline points="2312.0,1066.0 2335.0,1063.0" fill="none" stroke="#222" stroke-width="1.4" stroke-dasharray="2.2,3.6"/>
<polyline points="2611.0,1043.0 2639.0,1041.0" fill="none" stroke="#222" stroke-width="1.4" stroke-dasharray="2.2,3.6"/>
<polyline points="2710.0,1030.0 2745.0,1031.0" fill="none" stroke="#222" stroke-width="1.4" stroke-dasharray="2.2,3.6"/>
<polyline points="2830.0,1035.0 2850.0,1045.0" fill="none" stroke="#222" stroke-width="1.4" stroke-dasharray="2.2,3.6"/>
<polyline points="298.0,1278.0 310.0,1297.0" fill="none" stroke="#222" stroke-width="1.4" stroke-dasharray="2.2,3.6"/>
<polyline points="394.0,1287.0 431.0,1275.0" fill="none" stroke="#222" stroke-width="1.4" stroke-dasharray="2.2,3.6"/>
<polyline points="493.0,1257.0 534.0,1240.0" fill="none" stroke="#222" stroke-width="1.4" stroke-dasharray="2.2,3.6"/>
<polyline points="843.0,1139.0 875.0,1128.0" fill="none" stroke="#222" stroke-width="1.4" stroke-dasharray="2.2,3.6"/>
<polyline points="922.0,1105.0 956.0,1097.0" fill="none" stroke="#222" stroke-width="1.4" stroke-dasharray="2.2,3.6"/>
<polyline points="1021.0,1078.0 1054.0,1068.0" fill="none" stroke="#222" stroke-width="1.4" stroke-dasharray="2.2,3.6"/>
<polyline points="1110.0,1030.0 1098.0,1012.0" fill="none" stroke="#222" stroke-width="1.4" stroke-dasharray="2.2,3.6"/>
<polyline points="369.0,1549.0 405.0,1534.0" fill="none" stroke="#222" stroke-width="1.4" stroke-dasharray="2.2,3.6"/>
<polyline points="460.0,1515.0 493.0,1504.0" fill="none" stroke="#222" stroke-width="1.4" stroke-dasharray="2.2,3.6"/>
<polyline points="744.0,1403.0 775.0,1392.0" fill="none" stroke="#222" stroke-width="1.4" stroke-dasharray="2.2,3.6"/>
<polyline points="830.0,1367.0 872.0,1352.0" fill="none" stroke="#222" stroke-width="1.4" stroke-dasharray="2.2,3.6"/>
<polyline points="945.0,1420.0 912.0,1445.0" fill="none" stroke="#222" stroke-width="1.4" stroke-dasharray="2.2,3.6"/>
<polyline points="865.0,1478.0 842.0,1500.0" fill="none" stroke="#222" stroke-width="1.4" stroke-dasharray="2.2,3.6"/>
<polyline points="669.0,1624.0 638.0,1647.0" fill="none" stroke="#222" stroke-width="1.4" stroke-dasharray="2.2,3.6"/>
<polyline points="589.0,1681.0 558.0,1704.0" fill="none" stroke="#222" stroke-width="1.4" stroke-dasharray="2.2,3.6"/>
<polyline points="1420.0,1415.0 1400.0,1395.0" fill="none" stroke="#222" stroke-width="1.4" stroke-dasharray="2.2,3.6"/>
<polyline points="1266.0,1495.0 1240.0,1500.0" fill="none" stroke="#222" stroke-width="1.4" stroke-dasharray="2.2,3.6"/>
<polyline points="1215.0,1560.0 1192.0,1571.0" fill="none" stroke="#222" stroke-width="1.4" stroke-dasharray="2.2,3.6"/>
<polyline points="950.0,1810.0 927.0,1833.0" fill="none" stroke="#222" stroke-width="1.4" stroke-dasharray="2.2,3.6"/>
<polyline points="875.0,1885.0 839.0,1924.0" fill="none" stroke="#222" stroke-width="1.4" stroke-dasharray="2.2,3.6"/>
<polyline points="790.0,1990.0 825.0,2005.0" fill="none" stroke="#222" stroke-width="1.4" stroke-dasharray="2.2,3.6"/>
<polyline points="782.0,626.0 800.0,645.0" fill="none" stroke="#222" stroke-width="1.4" stroke-dasharray="2.2,3.6"/>
<polyline points="641.0,858.0 652.0,866.0" fill="none" stroke="#222" stroke-width="1.4" stroke-dasharray="2.2,3.6"/>
<polyline points="674.0,882.0 690.0,893.0" fill="none" stroke="#222" stroke-width="1.4" stroke-dasharray="2.2,3.6"/>
<polyline points="2545.0,1318.0 2598.0,1290.0 2617.0,1312.0" fill="none" stroke="#222" stroke-width="1.4" stroke-dasharray="2.2,3.6"/>
<polyline points="2690.0,1510.0 2716.0,1525.0" fill="none" stroke="#222" stroke-width="1.4" stroke-dasharray="2.2,3.6"/>
<polyline points="1727.0,1722.0 1745.0,1745.0" fill="none" stroke="#222" stroke-width="1.4" stroke-dasharray="2.2,3.6"/>
<polyline points="1620.0,1990.0 1635.0,2005.0" fill="none" stroke="#222" stroke-width="1.4" stroke-dasharray="2.2,3.6"/>
<polyline points="2275.4,1446.5 2294.0,1469.0" fill="none" stroke="#222" stroke-width="1.4" stroke-dasharray="2.2,3.6"/>
<polyline points="2315.0,1491.5 2421.0,1589.6" fill="none" stroke="#222" stroke-width="1.4" stroke-dasharray="2.2,3.6"/>
<polyline points="1978.6,1655.8 2097.9,1788.3" fill="none" stroke="#222" stroke-width="1.4" stroke-dasharray="2.2,3.6"/>
<polyline points="2021.0,1700.0 2155.9,1852.3" fill="none" stroke="#222" stroke-width="1.4" stroke-dasharray="2.2,3.6"/>
<polyline points="1648.0,700.0 1657.0,835.0" fill="none" stroke="#222" stroke-width="1.4" stroke-dasharray="2.2,3.6"/>
<polyline points="1631.0,776.0 1636.0,800.0" fill="none" stroke="#222" stroke-width="1.4" stroke-dasharray="2.2,3.6"/>
<polyline points="1677.0,763.0 1680.0,815.0" fill="none" stroke="#222" stroke-width="1.4" stroke-dasharray="2.2,3.6"/>
<polyline points="1539.0,858.0 1541.0,895.0" fill="none" stroke="#222" stroke-width="1.4" stroke-dasharray="2.2,3.6"/>
<polyline points="1770.0,1418.0 1772.0,1455.0" fill="none" stroke="#222" stroke-width="1.4" stroke-dasharray="2.2,3.6"/>
<polyline points="1769.0,1490.0 1770.0,1505.0" fill="none" stroke="#222" stroke-width="1.4" stroke-dasharray="2.2,3.6"/>
<polyline points="1874.0,1540.0 1876.0,1568.0" fill="none" stroke="#222" stroke-width="1.4" stroke-dasharray="2.2,3.6"/>
<polyline points="1916.0,1468.0 1917.0,1502.0" fill="none" stroke="#222" stroke-width="1.4" stroke-dasharray="2.2,3.6"/>
<polygon points="882.5,485.5 871,478 878,472" fill="#111"/>
<polygon points="869.5,525.5 858,518 865,512" fill="#111"/>
<circle cx="1812.0" cy="688.0" r="11.0" fill="#a9a9a9" stroke="#555" stroke-width="1.8"/>
<circle cx="1808.7" cy="684.7" r="4.4" fill="#d0d0d0"/>
<polygon points="1861.6,691.3 1925.6,666.3 1918.4,647.7 1854.4,672.7" fill="#8a8a8a"/>
<polygon points="1854.4,672.7 1918.4,647.7 1919.5,650.5 1855.5,675.5" fill="#3a3a3a"/>
<polygon points="1856.5,678.3 1920.5,653.3 1922.7,658.9 1858.7,683.9" fill="#b0b0b0"/>
<polygon points="1860.5,688.5 1924.5,663.5 1925.6,666.3 1861.6,691.3" fill="#555"/>
<circle cx="1858.0" cy="682.0" r="13.0" fill="none" stroke="#333" stroke-width="8.0"/>
<circle cx="1858.0" cy="682.0" r="13.0" fill="none" stroke="#9a9a9a" stroke-width="5.0"/>
<circle cx="1858.0" cy="682.0" r="9.0" fill="#f0f0f0"/>
<line x1="2025.0" y1="609.0" x2="2085.0" y2="583.0" stroke="#8a5220" stroke-width="19.0" stroke-linecap="round"/>
<line x1="2025.0" y1="609.0" x2="2085.0" y2="583.0" stroke="#bb7d3e" stroke-width="16.0" stroke-linecap="round"/>
<line x1="2023.6" y1="605.9" x2="2083.6" y2="579.9" stroke="#d6a066" stroke-width="5.7" stroke-linecap="round"/>
<polygon points="2126.6,576.1 2376.6,473.1 2367.4,450.9 2117.4,553.9" fill="#8c8c8c"/>
<polygon points="2117.4,553.9 2367.4,450.9 2368.2,452.7 2118.2,555.7" fill="#333"/>
<polygon points="2118.2,555.7 2368.2,452.7 2372.0,462.0 2122.0,565.0" fill="#b0b0b0"/>
<polygon points="2122.0,565.0 2372.0,462.0 2375.8,471.3 2125.8,574.3" fill="#777"/>
<polygon points="2125.8,574.3 2375.8,471.3 2376.6,473.1 2126.6,576.1" fill="#555"/>
<ellipse cx="2122.0" cy="565.0" rx="5.3" ry="12.0" fill="#777" stroke="#333" stroke-width="2"/>
<line x1="2390.0" y1="450.0" x2="2455.0" y2="425.0" stroke="#8a5220" stroke-width="18.0" stroke-linecap="round"/>
<line x1="2390.0" y1="450.0" x2="2455.0" y2="425.0" stroke="#bb7d3e" stroke-width="15.0" stroke-linecap="round"/>
<line x1="2388.8" y1="447.0" x2="2453.8" y2="422.0" stroke="#d6a066" stroke-width="5.4" stroke-linecap="round"/>
<polygon points="2544.6,374.7 2478.6,401.7 2485.4,418.3 2551.4,391.3" fill="#8a8a8a"/>
<polygon points="2551.4,391.3 2485.4,418.3 2484.4,415.8 2550.4,388.8" fill="#3a3a3a"/>
<polygon points="2549.4,386.3 2483.4,413.3 2481.3,408.3 2547.3,381.3" fill="#b0b0b0"/>
<polygon points="2545.6,377.2 2479.6,404.2 2478.6,401.7 2544.6,374.7" fill="#555"/>
<circle cx="2548.0" cy="383.0" r="12.0" fill="none" stroke="#333" stroke-width="8.0"/>
<circle cx="2548.0" cy="383.0" r="12.0" fill="none" stroke="#9a9a9a" stroke-width="5.0"/>
<circle cx="2548.0" cy="383.0" r="8.0" fill="#f0f0f0"/>
<circle cx="2596.0" cy="414.0" r="11.0" fill="#a9a9a9" stroke="#555" stroke-width="1.8"/>
<circle cx="2592.7" cy="410.7" r="4.4" fill="#d0d0d0"/>
<line x1="2084.5" y1="827.4" x2="2153.5" y2="797.8" stroke="#8a5220" stroke-width="20.0" stroke-linecap="round"/>
<line x1="2084.5" y1="827.4" x2="2153.5" y2="797.8" stroke="#bb7d3e" stroke-width="17.0" stroke-linecap="round"/>
<line x1="2083.1" y1="824.1" x2="2152.1" y2="794.5" stroke="#d6a066" stroke-width="6.0" stroke-linecap="round"/>
<polygon points="2196.1,793.5 2458.4,694.7 2449.6,671.3 2187.3,770.1" fill="#d8d8d8"/>
<polygon points="2187.3,770.1 2449.6,671.3 2450.5,673.6 2188.2,772.4" fill="#3a3a3a"/>
<polygon points="2188.2,772.4 2450.5,673.6 2452.1,677.9 2189.8,776.7" fill="#a8a8a8"/>
<polygon points="2190.1,777.6 2452.4,678.8 2454.9,685.3 2192.6,784.1" fill="#f6f6f6"/>
<polygon points="2193.5,786.5 2455.8,687.7 2457.2,691.4 2194.9,790.2" fill="#9a9a9a"/>
<polygon points="2194.9,790.2 2457.2,691.4 2458.4,694.7 2196.1,793.5" fill="#1e1e1e"/>
<line x1="2478.0" y1="674.0" x2="2548.0" y2="639.0" stroke="#8a5220" stroke-width="19.0" stroke-linecap="round"/>
<line x1="2478.0" y1="674.0" x2="2548.0" y2="639.0" stroke="#bb7d3e" stroke-width="16.0" stroke-linecap="round"/>
<line x1="2476.5" y1="670.9" x2="2546.5" y2="635.9" stroke="#d6a066" stroke-width="5.7" stroke-linecap="round"/>
<polygon points="2653.3,589.7 2588.3,615.7 2595.7,634.3 2660.7,608.3" fill="#8a8a8a"/>
<polygon points="2660.7,608.3 2595.7,634.3 2594.6,631.5 2659.6,605.5" fill="#3a3a3a"/>
<polygon points="2658.5,602.7 2593.5,628.7 2591.3,623.1 2656.3,597.1" fill="#b0b0b0"/>
<polygon points="2654.4,592.5 2589.4,618.5 2588.3,615.7 2653.3,589.7" fill="#555"/>
<circle cx="2657.0" cy="599.0" r="12.0" fill="none" stroke="#333" stroke-width="8.0"/>
<circle cx="2657.0" cy="599.0" r="12.0" fill="none" stroke="#6a6a6a" stroke-width="5.0"/>
<circle cx="2657.0" cy="599.0" r="8.0" fill="#f0f0f0"/>
<line x1="2140.0" y1="887.7" x2="2222.5" y2="877.9" stroke="#8a5220" stroke-width="23.0" stroke-linecap="round"/>
<line x1="2140.0" y1="887.7" x2="2222.5" y2="877.9" stroke="#bb7d3e" stroke-width="20.0" stroke-linecap="round"/>
<line x1="2139.5" y1="883.6" x2="2222.0" y2="873.8" stroke="#d6a066" stroke-width="6.9" stroke-linecap="round"/>
<polygon points="2258.6,888.1 2563.6,848.4 2560.4,823.6 2255.4,863.3" fill="#d8d8d8"/>
<polygon points="2255.4,863.3 2560.4,823.6 2560.7,826.1 2255.7,865.8" fill="#3a3a3a"/>
<polygon points="2255.7,865.8 2560.7,826.1 2561.3,830.5 2256.3,870.2" fill="#a8a8a8"/>
<polygon points="2256.4,871.2 2561.4,831.5 2562.3,838.5 2257.3,878.2" fill="#f6f6f6"/>
<polygon points="2257.6,880.7 2562.6,841.0 2563.2,844.9 2258.2,884.6" fill="#9a9a9a"/>
<polygon points="2258.2,884.6 2563.2,844.9 2563.6,848.4 2258.6,888.1" fill="#1e1e1e"/>
<line x1="2589.0" y1="833.8" x2="2668.0" y2="821.5" stroke="#8a5220" stroke-width="19.0" stroke-linecap="round"/>
<line x1="2589.0" y1="833.8" x2="2668.0" y2="821.5" stroke="#bb7d3e" stroke-width="16.0" stroke-linecap="round"/>
<line x1="2588.5" y1="830.4" x2="2667.5" y2="818.1" stroke="#d6a066" stroke-width="5.7" stroke-linecap="round"/>
<polygon points="2780.6,798.1 2703.6,808.1 2706.4,829.9 2783.4,819.9" fill="#b9b9b9"/>
<polygon points="2783.4,819.9 2706.4,829.9 2706.0,826.6 2783.0,816.6" fill="#3a3a3a"/>
<polygon points="2782.6,813.4 2705.6,823.4 2704.7,816.8 2781.7,806.8" fill="#b0b0b0"/>
<polygon points="2781.0,801.4 2704.0,811.4 2703.6,808.1 2780.6,798.1" fill="#555"/>
<circle cx="2782.0" cy="809.0" r="12.0" fill="none" stroke="#333" stroke-width="8.0"/>
<circle cx="2782.0" cy="809.0" r="12.0" fill="none" stroke="#5a5a5a" stroke-width="5.0"/>
<circle cx="2782.0" cy="809.0" r="8.0" fill="#f0f0f0"/>
<circle cx="2025.6" cy="1070.4" r="11.0" fill="#a9a9a9" stroke="#555" stroke-width="1.8"/>
<circle cx="2022.3" cy="1067.1" r="4.4" fill="#d0d0d0"/>
<polygon points="2066.0,1102.4 2131.4,1092.9 2128.6,1073.1 2063.2,1082.6" fill="#8a8a8a"/>
<polygon points="2063.2,1082.6 2128.6,1073.1 2129.0,1076.1 2063.6,1085.6" fill="#3a3a3a"/>
<polygon points="2064.0,1088.5 2129.4,1079.0 2130.3,1085.0 2064.9,1094.5" fill="#b0b0b0"/>
<polygon points="2065.6,1099.4 2131.0,1089.9 2131.4,1092.9 2066.0,1102.4" fill="#555"/>
<circle cx="2064.6" cy="1092.5" r="14.0" fill="none" stroke="#333" stroke-width="8.0"/>
<circle cx="2064.6" cy="1092.5" r="14.0" fill="none" stroke="#9a9a9a" stroke-width="5.0"/>
<circle cx="2064.6" cy="1092.5" r="10.0" fill="#f0f0f0"/>
<line x1="2239.4" y1="1077.7" x2="2312.4" y2="1067.9" stroke="#8a5220" stroke-width="18.0" stroke-linecap="round"/>
<line x1="2239.4" y1="1077.7" x2="2312.4" y2="1067.9" stroke="#bb7d3e" stroke-width="15.0" stroke-linecap="round"/>
<line x1="2239.0" y1="1074.5" x2="2312.0" y2="1064.7" stroke="#d6a066" stroke-width="5.4" stroke-linecap="round"/>
<polygon points="2336.4,1075.0 2612.4,1055.2 2610.6,1031.2 2334.6,1051.0" fill="#8c8c8c"/>
<polygon points="2334.6,1051.0 2610.6,1031.2 2610.8,1033.1 2334.8,1052.9" fill="#333"/>
<polygon points="2334.8,1052.9 2610.8,1033.1 2611.5,1043.2 2335.5,1063.0" fill="#b0b0b0"/>
<polygon points="2335.5,1063.0 2611.5,1043.2 2612.2,1053.3 2336.2,1073.1" fill="#777"/>
<polygon points="2336.2,1073.1 2612.2,1053.3 2612.4,1055.2 2336.4,1075.0" fill="#555"/>
<ellipse cx="2335.5" cy="1063.0" rx="5.3" ry="12.0" fill="#777" stroke="#333" stroke-width="2"/>
<line x1="2638.6" y1="1040.8" x2="2710.0" y2="1030.0" stroke="#8a5220" stroke-width="18.0" stroke-linecap="round"/>
<line x1="2638.6" y1="1040.8" x2="2710.0" y2="1030.0" stroke="#bb7d3e" stroke-width="15.0" stroke-linecap="round"/>
<line x1="2638.1" y1="1037.6" x2="2709.5" y2="1026.8" stroke="#d6a066" stroke-width="5.4" stroke-linecap="round"/>
<polygon points="2812.5,1013.6 2743.5,1021.1 2745.7,1040.9 2814.7,1033.4" fill="#8a8a8a"/>
<polygon points="2814.7,1033.4 2745.7,1040.9 2745.4,1038.0 2814.4,1030.5" fill="#3a3a3a"/>
<polygon points="2814.0,1027.5 2745.0,1035.0 2744.4,1029.0 2813.4,1021.5" fill="#b0b0b0"/>
<polygon points="2812.8,1016.5 2743.8,1024.0 2743.5,1021.1 2812.5,1013.6" fill="#555"/>
<circle cx="2813.6" cy="1023.5" r="14.0" fill="none" stroke="#333" stroke-width="8.0"/>
<circle cx="2813.6" cy="1023.5" r="14.0" fill="none" stroke="#9a9a9a" stroke-width="5.0"/>
<circle cx="2813.6" cy="1023.5" r="10.0" fill="#f0f0f0"/>
<circle cx="2860.0" cy="1052.0" r="11.0" fill="#a9a9a9" stroke="#555" stroke-width="1.8"/>
<circle cx="2856.7" cy="1048.7" r="4.4" fill="#d0d0d0"/>
<circle cx="288.0" cy="1265.0" r="11.0" fill="#a9a9a9" stroke="#555" stroke-width="1.8"/>
<circle cx="284.7" cy="1261.7" r="4.4" fill="#d0d0d0"/>
<polygon points="321.1,1321.9 397.5,1297.2 391.1,1277.2 314.7,1301.9" fill="#7a7a7a"/>
<polygon points="314.7,1301.9 391.1,1277.2 392.0,1280.2 315.6,1304.9" fill="#3a3a3a"/>
<polygon points="316.6,1307.9 393.0,1283.2 394.9,1289.2 318.5,1313.9" fill="#b0b0b0"/>
<polygon points="320.2,1318.9 396.6,1294.2 397.5,1297.2 321.1,1321.9" fill="#555"/>
<circle cx="317.9" cy="1311.9" r="14.0" fill="none" stroke="#333" stroke-width="8.0"/>
<circle cx="317.9" cy="1311.9" r="14.0" fill="none" stroke="#9a9a9a" stroke-width="5.0"/>
<circle cx="317.9" cy="1311.9" r="10.0" fill="#f0f0f0"/>
<line x1="431.2" y1="1274.9" x2="492.9" y2="1257.6" stroke="#8a5220" stroke-width="19.0" stroke-linecap="round"/>
<line x1="431.2" y1="1274.9" x2="492.9" y2="1257.6" stroke="#bb7d3e" stroke-width="16.0" stroke-linecap="round"/>
<line x1="430.3" y1="1271.6" x2="492.0" y2="1254.3" stroke="#d6a066" stroke-width="5.7" stroke-linecap="round"/>
<polygon points="538.4,1251.8 846.5,1150.8 839.1,1128.0 531.0,1229.0" fill="#12dc3c"/>
<polygon points="531.0,1229.0 839.1,1128.0 841.3,1134.8 533.2,1235.8" fill="#0a7a22"/>
<polygon points="533.8,1237.7 841.9,1136.7 844.3,1144.0 536.2,1245.0" fill="#22ee4a"/>
<polygon points="537.4,1248.6 845.5,1147.6 846.5,1150.8 538.4,1251.8" fill="#0a6a1c"/>
<ellipse cx="534.7" cy="1240.4" rx="7.2" ry="12.0" fill="#1fa41f" stroke="#0d6d0d" stroke-width="2"/>
<line x1="955.9" y1="1097.6" x2="1020.6" y2="1078.2" stroke="#8a5220" stroke-width="20.0" stroke-linecap="round"/>
<line x1="955.9" y1="1097.6" x2="1020.6" y2="1078.2" stroke="#bb7d3e" stroke-width="17.0" stroke-linecap="round"/>
<line x1="954.9" y1="1094.2" x2="1019.6" y2="1074.8" stroke="#d6a066" stroke-width="6.0" stroke-linecap="round"/>
<polygon points="1119.8,1033.8 1050.8,1058.5 1057.6,1077.3 1126.6,1052.6" fill="#8a8a8a"/>
<polygon points="1126.6,1052.6 1057.6,1077.3 1056.6,1074.5 1125.6,1049.8" fill="#3a3a3a"/>
<polygon points="1124.5,1047.0 1055.5,1071.7 1053.5,1066.0 1122.5,1041.3" fill="#b0b0b0"/>
<polygon points="1120.8,1036.6 1051.8,1061.3 1050.8,1058.5 1119.8,1033.8" fill="#555"/>
<circle cx="1123.2" cy="1043.2" r="13.0" fill="none" stroke="#333" stroke-width="8.0"/>
<circle cx="1123.2" cy="1043.2" r="13.0" fill="none" stroke="#9a9a9a" stroke-width="5.0"/>
<circle cx="1123.2" cy="1043.2" r="9.0" fill="#f0f0f0"/>
<circle cx="1092.6" cy="1000.3" r="11.0" fill="#a9a9a9" stroke="#555" stroke-width="1.8"/>
<circle cx="1089.3" cy="997.0" r="4.4" fill="#d0d0d0"/>
<polygon points="295.3,1585.3 372.7,1559.4 365.7,1538.6 288.3,1564.5" fill="#b5b5b5"/>
<polygon points="288.3,1564.5 365.7,1538.6 366.8,1541.7 289.4,1567.6" fill="#3a3a3a"/>
<polygon points="290.4,1570.7 367.8,1544.8 369.9,1551.1 292.5,1577.0" fill="#b0b0b0"/>
<polygon points="294.2,1582.2 371.6,1556.3 372.7,1559.4 295.3,1585.3" fill="#555"/>
<circle cx="291.8" cy="1574.9" r="13.0" fill="none" stroke="#333" stroke-width="8.0"/>
<circle cx="291.8" cy="1574.9" r="13.0" fill="none" stroke="#555" stroke-width="5.0"/>
<circle cx="291.8" cy="1574.9" r="9.0" fill="#f0f0f0"/>
<line x1="405.4" y1="1533.6" x2="459.6" y2="1515.5" stroke="#8a5220" stroke-width="18.0" stroke-linecap="round"/>
<line x1="405.4" y1="1533.6" x2="459.6" y2="1515.5" stroke="#bb7d3e" stroke-width="15.0" stroke-linecap="round"/>
<line x1="404.4" y1="1530.5" x2="458.6" y2="1512.4" stroke="#d6a066" stroke-width="5.4" stroke-linecap="round"/>
<polygon points="496.9,1514.2 748.1,1413.2 739.9,1392.8 488.7,1493.8" fill="#d8d8d8"/>
<polygon points="488.7,1493.8 739.9,1392.8 740.7,1394.8 489.5,1495.8" fill="#3a3a3a"/>
<polygon points="489.5,1495.8 740.7,1394.8 742.2,1398.5 491.0,1499.5" fill="#a8a8a8"/>
<polygon points="491.3,1500.3 742.5,1399.3 744.8,1405.0 493.6,1506.0" fill="#f6f6f6"/>
<polygon points="494.4,1508.1 745.6,1407.1 747.0,1410.3 495.8,1511.3" fill="#9a9a9a"/>
<polygon points="495.8,1511.3 747.0,1410.3 748.1,1413.2 496.9,1514.2" fill="#1e1e1e"/>
<line x1="775.0" y1="1392.0" x2="830.0" y2="1367.0" stroke="#8a5220" stroke-width="18.0" stroke-linecap="round"/>
<line x1="775.0" y1="1392.0" x2="830.0" y2="1367.0" stroke="#bb7d3e" stroke-width="15.0" stroke-linecap="round"/>
<line x1="773.7" y1="1389.1" x2="828.7" y2="1364.1" stroke="#d6a066" stroke-width="5.4" stroke-linecap="round"/>
<polygon points="675.5,1633.2 848.5,1509.3 835.1,1490.7 662.1,1614.6" fill="#959595"/>
<polygon points="662.1,1614.6 835.1,1490.7 836.2,1492.1 663.2,1616.0" fill="#333"/>
<polygon points="663.2,1616.0 836.2,1492.1 841.8,1500.0 668.8,1623.9" fill="#b0b0b0"/>
<polygon points="668.8,1623.9 841.8,1500.0 847.4,1507.9 674.4,1631.8" fill="#777"/>
<polygon points="674.4,1631.8 847.4,1507.9 848.5,1509.3 675.5,1633.2" fill="#555"/>
<ellipse cx="668.8" cy="1623.9" rx="5.1" ry="11.5" fill="#777" stroke="#333" stroke-width="2"/>
<line x1="865.0" y1="1478.0" x2="912.0" y2="1445.0" stroke="#8a5220" stroke-width="18.0" stroke-linecap="round"/>
<line x1="865.0" y1="1478.0" x2="912.0" y2="1445.0" stroke="#bb7d3e" stroke-width="15.0" stroke-linecap="round"/>
<line x1="863.1" y1="1475.3" x2="910.1" y2="1442.3" stroke="#d6a066" stroke-width="5.4" stroke-linecap="round"/>
<line x1="588.7" y1="1680.7" x2="637.8" y2="1647.2" stroke="#8a5220" stroke-width="18.0" stroke-linecap="round"/>
<line x1="588.7" y1="1680.7" x2="637.8" y2="1647.2" stroke="#bb7d3e" stroke-width="15.0" stroke-linecap="round"/>
<line x1="586.9" y1="1678.0" x2="636.0" y2="1644.5" stroke="#d6a066" stroke-width="5.4" stroke-linecap="round"/>
<polygon points="499.1,1754.6 563.6,1713.3 551.8,1694.7 487.3,1736.0" fill="#a5a5a5"/>
<polygon points="487.3,1736.0 551.8,1694.7 553.5,1697.5 489.0,1738.8" fill="#3a3a3a"/>
<polygon points="490.8,1741.6 555.3,1700.3 558.9,1705.9 494.4,1747.2" fill="#b0b0b0"/>
<polygon points="497.4,1751.8 561.9,1710.5 563.6,1713.3 499.1,1754.6" fill="#555"/>
<circle cx="493.2" cy="1745.3" r="13.0" fill="none" stroke="#333" stroke-width="8.0"/>
<circle cx="493.2" cy="1745.3" r="13.0" fill="none" stroke="#555" stroke-width="5.0"/>
<circle cx="493.2" cy="1745.3" r="9.0" fill="#f0f0f0"/>
<polygon points="1375.3,1378.4 1318.6,1430.1 1332.0,1444.9 1388.7,1393.2" fill="#8a8a8a"/>
<polygon points="1388.7,1393.2 1332.0,1444.9 1330.0,1442.7 1386.7,1391.0" fill="#3a3a3a"/>
<polygon points="1384.7,1388.8 1328.0,1440.5 1324.0,1436.0 1380.7,1384.3" fill="#b0b0b0"/>
<polygon points="1377.3,1380.6 1320.6,1432.3 1318.6,1430.1 1375.3,1378.4" fill="#555"/>
<circle cx="1382.0" cy="1385.8" r="14.0" fill="none" stroke="#333" stroke-width="8.0"/>
<circle cx="1382.0" cy="1385.8" r="14.0" fill="none" stroke="#9a9a9a" stroke-width="5.0"/>
<circle cx="1382.0" cy="1385.8" r="10.0" fill="#f0f0f0"/>
<circle cx="1432.0" cy="1422.7" r="12.0" fill="#a9a9a9" stroke="#555" stroke-width="1.8"/>
<circle cx="1428.4" cy="1419.1" r="4.8" fill="#d0d0d0"/>
<line x1="1266.0" y1="1494.6" x2="1320.3" y2="1445.0" stroke="#8a5220" stroke-width="20.0" stroke-linecap="round"/>
<line x1="1266.0" y1="1494.6" x2="1320.3" y2="1445.0" stroke="#bb7d3e" stroke-width="17.0" stroke-linecap="round"/>
<line x1="1263.6" y1="1491.9" x2="1317.9" y2="1442.3" stroke="#d6a066" stroke-width="6.0" stroke-linecap="round"/>
<polygon points="959.3,1819.1 1201.1,1580.2 1182.9,1561.8 941.1,1800.7" fill="#12dc3c"/>
<polygon points="941.1,1800.7 1182.9,1561.8 1188.3,1567.3 946.5,1806.2" fill="#0a7a22"/>
<polygon points="948.0,1807.7 1189.8,1568.8 1195.7,1574.7 953.9,1813.6" fill="#22ee4a"/>
<polygon points="956.8,1816.6 1198.6,1577.7 1201.1,1580.2 959.3,1819.1" fill="#0a6a1c"/>
<ellipse cx="950.2" cy="1809.9" rx="7.8" ry="13.0" fill="#1fa41f" stroke="#0d6d0d" stroke-width="2"/>
<line x1="875.3" y1="1884.7" x2="927.0" y2="1833.0" stroke="#8a5220" stroke-width="20.0" stroke-linecap="round"/>
<line x1="875.3" y1="1884.7" x2="927.0" y2="1833.0" stroke="#bb7d3e" stroke-width="17.0" stroke-linecap="round"/>
<line x1="872.8" y1="1882.2" x2="924.5" y2="1830.5" stroke="#d6a066" stroke-width="6.0" stroke-linecap="round"/>
<polygon points="781.7,1986.1 846.3,1931.9 832.1,1915.1 767.5,1969.3" fill="#7a7a7a"/>
<polygon points="767.5,1969.3 832.1,1915.1 834.3,1917.6 769.7,1971.8" fill="#3a3a3a"/>
<polygon points="771.8,1974.3 836.4,1920.1 840.6,1925.2 776.0,1979.4" fill="#b0b0b0"/>
<polygon points="779.5,1983.6 844.1,1929.4 846.3,1931.9 781.7,1986.1" fill="#555"/>
<circle cx="774.6" cy="1977.7" r="15.0" fill="none" stroke="#333" stroke-width="8.0"/>
<circle cx="774.6" cy="1977.7" r="15.0" fill="none" stroke="#9a9a9a" stroke-width="5.0"/>
<circle cx="774.6" cy="1977.7" r="11.0" fill="#f0f0f0"/>
<circle cx="837.7" cy="2012.0" r="12.0" fill="#a9a9a9" stroke="#555" stroke-width="1.8"/>
<circle cx="834.1" cy="2008.4" r="4.8" fill="#d0d0d0"/>
<g transform="translate(803.3,648.5) rotate(23.2)"><rect x="-6" y="0" width="12" height="24" fill="#aaa" stroke="#555" stroke-width="1.5"/><circle cx="0" cy="0" r="10" fill="#c8c8c8" stroke="#555" stroke-width="2"/><circle cx="0" cy="0" r="3.5" fill="#fff" stroke="#555" stroke-width="1"/><rect x="-18.0" y="13" width="36.0" height="21" rx="3" fill="#8b49cf" stroke="#5a2a90" stroke-width="1.5"/><rect x="-14.0" y="16" width="26.0" height="6" fill="#a874e0"/><rect x="-17.0" y="34" width="34.0" height="14" fill="#c4c4c4" stroke="#555" stroke-width="1.2"/><circle cx="17.0" cy="42" r="6" fill="#9a9a9a" stroke="#444" stroke-width="1.2"/><rect x="-15.0" y="48.0" width="30.0" height="86.1" fill="#b4b4b8" stroke="#555" stroke-width="1.2"/><rect x="-9.0" y="48.0" width="10.8" height="86.1" fill="#dedee2"/><line x1="-21.0" y1="57.0" x2="21.0" y2="51.0" stroke="#3e3e3e" stroke-width="2.6"/><line x1="-21.0" y1="65.5" x2="21.0" y2="59.5" stroke="#3e3e3e" stroke-width="2.6"/><line x1="-21.0" y1="74.0" x2="21.0" y2="68.0" stroke="#3e3e3e" stroke-width="2.6"/><line x1="-21.0" y1="82.5" x2="21.0" y2="76.5" stroke="#3e3e3e" stroke-width="2.6"/><line x1="-21.0" y1="91.0" x2="21.0" y2="85.0" stroke="#3e3e3e" stroke-width="2.6"/><line x1="-21.0" y1="99.5" x2="21.0" y2="93.5" stroke="#3e3e3e" stroke-width="2.6"/><line x1="-21.0" y1="108.0" x2="21.0" y2="102.0" stroke="#3e3e3e" stroke-width="2.6"/><line x1="-21.0" y1="116.5" x2="21.0" y2="110.5" stroke="#3e3e3e" stroke-width="2.6"/><line x1="-21.0" y1="125.0" x2="21.0" y2="119.0" stroke="#3e3e3e" stroke-width="2.6"/><line x1="-21.0" y1="133.5" x2="21.0" y2="127.5" stroke="#3e3e3e" stroke-width="2.6"/><rect x="-18.0" y="132.1" width="36.0" height="11" fill="#8b49cf" stroke="#5a2a90" stroke-width="1.2"/><rect x="-3" y="143.1" width="6" height="82.2" fill="#c8864a"/><line x1="-21.0" y1="149.6" x2="21.0" y2="142.6" stroke="#4a4a4a" stroke-width="4.6"/><line x1="-19.0" y1="149.1" x2="19.0" y2="142.1" stroke="#f0f0f0" stroke-width="1.8"/><line x1="-21.0" y1="158.6" x2="21.0" y2="151.6" stroke="#4a4a4a" stroke-width="4.6"/><line x1="-19.0" y1="158.1" x2="19.0" y2="151.1" stroke="#f0f0f0" stroke-width="1.8"/><line x1="-21.0" y1="167.6" x2="21.0" y2="160.6" stroke="#4a4a4a" stroke-width="4.6"/><line x1="-19.0" y1="167.1" x2="19.0" y2="160.1" stroke="#f0f0f0" stroke-width="1.8"/><line x1="-21.0" y1="176.6" x2="21.0" y2="169.6" stroke="#4a4a4a" stroke-width="4.6"/><line x1="-19.0" y1="176.1" x2="19.0" y2="169.1" stroke="#f0f0f0" stroke-width="1.8"/><line x1="-21.0" y1="185.6" x2="21.0" y2="178.6" stroke="#4a4a4a" stroke-width="4.6"/><line x1="-19.0" y1="185.1" x2="19.0" y2="178.1" stroke="#f0f0f0" stroke-width="1.8"/><line x1="-21.0" y1="194.6" x2="21.0" y2="187.6" stroke="#4a4a4a" stroke-width="4.6"/><line x1="-19.0" y1="194.1" x2="19.0" y2="187.1" stroke="#f0f0f0" stroke-width="1.8"/><line x1="-21.0" y1="203.6" x2="21.0" y2="196.6" stroke="#4a4a4a" stroke-width="4.6"/><line x1="-19.0" y1="203.1" x2="19.0" y2="196.1" stroke="#f0f0f0" stroke-width="1.8"/><line x1="-21.0" y1="212.6" x2="21.0" y2="205.6" stroke="#4a4a4a" stroke-width="4.6"/><line x1="-19.0" y1="212.1" x2="19.0" y2="205.1" stroke="#f0f0f0" stroke-width="1.8"/><line x1="-21.0" y1="221.6" x2="21.0" y2="214.6" stroke="#4a4a4a" stroke-width="4.6"/><line x1="-19.0" y1="221.1" x2="19.0" y2="214.1" stroke="#f0f0f0" stroke-width="1.8"/><rect x="-13" y="225.2" width="26" height="21.5" fill="#d5d5d5" stroke="#666" stroke-width="1.2"/><rect x="-8" y="241.3" width="16" height="26.8" fill="#5a1212" stroke="#3a0a05" stroke-width="1.5"/><circle cx="0" cy="268.1" r="13" fill="#5a1212" stroke="#3a0a05" stroke-width="2"/><circle cx="0" cy="268.1" r="5" fill="#f4f4f4"/></g>
<g transform="translate(1543.5,348.0) rotate(-40.8)"><rect x="-6" y="0" width="12" height="24" fill="#aaa" stroke="#555" stroke-width="1.5"/><circle cx="0" cy="0" r="10" fill="#c8c8c8" stroke="#555" stroke-width="2"/><circle cx="0" cy="0" r="3.5" fill="#fff" stroke="#555" stroke-width="1"/><rect x="-18.0" y="13" width="36.0" height="21" rx="3" fill="#8b49cf" stroke="#5a2a90" stroke-width="1.5"/><rect x="-14.0" y="16" width="26.0" height="6" fill="#a874e0"/><rect x="-17.0" y="34" width="34.0" height="14" fill="#c4c4c4" stroke="#555" stroke-width="1.2"/><circle cx="17.0" cy="42" r="6" fill="#9a9a9a" stroke="#444" stroke-width="1.2"/><rect x="-15.0" y="48.0" width="30.0" height="59.5" fill="#b4b4b8" stroke="#555" stroke-width="1.2"/><rect x="-9.0" y="48.0" width="10.8" height="59.5" fill="#dedee2"/><line x1="-21.0" y1="57.0" x2="21.0" y2="51.0" stroke="#3e3e3e" stroke-width="2.6"/><line x1="-21.0" y1="65.5" x2="21.0" y2="59.5" stroke="#3e3e3e" stroke-width="2.6"/><line x1="-21.0" y1="74.0" x2="21.0" y2="68.0" stroke="#3e3e3e" stroke-width="2.6"/><line x1="-21.0" y1="82.5" x2="21.0" y2="76.5" stroke="#3e3e3e" stroke-width="2.6"/><line x1="-21.0" y1="91.0" x2="21.0" y2="85.0" stroke="#3e3e3e" stroke-width="2.6"/><line x1="-21.0" y1="99.5" x2="21.0" y2="93.5" stroke="#3e3e3e" stroke-width="2.6"/><rect x="-18.0" y="105.5" width="36.0" height="11" fill="#8b49cf" stroke="#5a2a90" stroke-width="1.2"/><rect x="-3" y="116.5" width="6" height="64.1" fill="#c8864a"/><line x1="-21.0" y1="123.0" x2="21.0" y2="116.0" stroke="#4a4a4a" stroke-width="4.6"/><line x1="-19.0" y1="122.5" x2="19.0" y2="115.5" stroke="#f0f0f0" stroke-width="1.8"/><line x1="-21.0" y1="132.0" x2="21.0" y2="125.0" stroke="#4a4a4a" stroke-width="4.6"/><line x1="-19.0" y1="131.5" x2="19.0" y2="124.5" stroke="#f0f0f0" stroke-width="1.8"/><line x1="-21.0" y1="141.0" x2="21.0" y2="134.0" stroke="#4a4a4a" stroke-width="4.6"/><line x1="-19.0" y1="140.5" x2="19.0" y2="133.5" stroke="#f0f0f0" stroke-width="1.8"/><line x1="-21.0" y1="150.0" x2="21.0" y2="143.0" stroke="#4a4a4a" stroke-width="4.6"/><line x1="-19.0" y1="149.5" x2="19.0" y2="142.5" stroke="#f0f0f0" stroke-width="1.8"/><line x1="-21.0" y1="159.0" x2="21.0" y2="152.0" stroke="#4a4a4a" stroke-width="4.6"/><line x1="-19.0" y1="158.5" x2="19.0" y2="151.5" stroke="#f0f0f0" stroke-width="1.8"/><line x1="-21.0" y1="168.0" x2="21.0" y2="161.0" stroke="#4a4a4a" stroke-width="4.6"/><line x1="-19.0" y1="167.5" x2="19.0" y2="160.5" stroke="#f0f0f0" stroke-width="1.8"/><line x1="-21.0" y1="177.0" x2="21.0" y2="170.0" stroke="#4a4a4a" stroke-width="4.6"/><line x1="-19.0" y1="176.5" x2="19.0" y2="169.5" stroke="#f0f0f0" stroke-width="1.8"/><rect x="-13" y="180.6" width="26" height="17.2" fill="#d5d5d5" stroke="#666" stroke-width="1.2"/><rect x="-8" y="193.5" width="16" height="21.5" fill="#d42a14" stroke="#3a0a05" stroke-width="1.5"/><circle cx="0" cy="215.0" r="13" fill="#d42a14" stroke="#3a0a05" stroke-width="2"/><circle cx="0" cy="215.0" r="5" fill="#f4f4f4"/></g>
<g transform="translate(2532.9,1319.8) rotate(-39.3)"><rect x="-6" y="0" width="12" height="24" fill="#aaa" stroke="#555" stroke-width="1.5"/><circle cx="0" cy="0" r="10" fill="#c8c8c8" stroke="#555" stroke-width="2"/><circle cx="0" cy="0" r="3.5" fill="#fff" stroke="#555" stroke-width="1"/><rect x="-18.0" y="13" width="36.0" height="21" rx="3" fill="#8b49cf" stroke="#5a2a90" stroke-width="1.5"/><rect x="-14.0" y="16" width="26.0" height="6" fill="#a874e0"/><rect x="-17.0" y="34" width="34.0" height="14" fill="#c4c4c4" stroke="#555" stroke-width="1.2"/><circle cx="17.0" cy="42" r="6" fill="#9a9a9a" stroke="#444" stroke-width="1.2"/><rect x="-15.0" y="48.0" width="30.0" height="68.3" fill="#b4b4b8" stroke="#555" stroke-width="1.2"/><rect x="-9.0" y="48.0" width="10.8" height="68.3" fill="#dedee2"/><line x1="-21.0" y1="57.0" x2="21.0" y2="51.0" stroke="#3e3e3e" stroke-width="2.6"/><line x1="-21.0" y1="65.5" x2="21.0" y2="59.5" stroke="#3e3e3e" stroke-width="2.6"/><line x1="-21.0" y1="74.0" x2="21.0" y2="68.0" stroke="#3e3e3e" stroke-width="2.6"/><line x1="-21.0" y1="82.5" x2="21.0" y2="76.5" stroke="#3e3e3e" stroke-width="2.6"/><line x1="-21.0" y1="91.0" x2="21.0" y2="85.0" stroke="#3e3e3e" stroke-width="2.6"/><line x1="-21.0" y1="99.5" x2="21.0" y2="93.5" stroke="#3e3e3e" stroke-width="2.6"/><line x1="-21.0" y1="108.0" x2="21.0" y2="102.0" stroke="#3e3e3e" stroke-width="2.6"/><rect x="-18.0" y="114.3" width="36.0" height="11" fill="#8b49cf" stroke="#5a2a90" stroke-width="1.2"/><rect x="-3" y="125.3" width="6" height="70.1" fill="#c8864a"/><line x1="-21.0" y1="131.8" x2="21.0" y2="124.8" stroke="#4a4a4a" stroke-width="4.6"/><line x1="-19.0" y1="131.3" x2="19.0" y2="124.3" stroke="#f0f0f0" stroke-width="1.8"/><line x1="-21.0" y1="140.8" x2="21.0" y2="133.8" stroke="#4a4a4a" stroke-width="4.6"/><line x1="-19.0" y1="140.3" x2="19.0" y2="133.3" stroke="#f0f0f0" stroke-width="1.8"/><line x1="-21.0" y1="149.8" x2="21.0" y2="142.8" stroke="#4a4a4a" stroke-width="4.6"/><line x1="-19.0" y1="149.3" x2="19.0" y2="142.3" stroke="#f0f0f0" stroke-width="1.8"/><line x1="-21.0" y1="158.8" x2="21.0" y2="151.8" stroke="#4a4a4a" stroke-width="4.6"/><line x1="-19.0" y1="158.3" x2="19.0" y2="151.3" stroke="#f0f0f0" stroke-width="1.8"/><line x1="-21.0" y1="167.8" x2="21.0" y2="160.8" stroke="#4a4a4a" stroke-width="4.6"/><line x1="-19.0" y1="167.3" x2="19.0" y2="160.3" stroke="#f0f0f0" stroke-width="1.8"/><line x1="-21.0" y1="176.8" x2="21.0" y2="169.8" stroke="#4a4a4a" stroke-width="4.6"/><line x1="-19.0" y1="176.3" x2="19.0" y2="169.3" stroke="#f0f0f0" stroke-width="1.8"/><line x1="-21.0" y1="185.8" x2="21.0" y2="178.8" stroke="#4a4a4a" stroke-width="4.6"/><line x1="-19.0" y1="185.3" x2="19.0" y2="178.3" stroke="#f0f0f0" stroke-width="1.8"/><line x1="-21.0" y1="194.8" x2="21.0" y2="187.8" stroke="#4a4a4a" stroke-width="4.6"/><line x1="-19.0" y1="194.3" x2="19.0" y2="187.3" stroke="#f0f0f0" stroke-width="1.8"/><rect x="-13" y="195.4" width="26" height="18.6" fill="#d5d5d5" stroke="#666" stroke-width="1.2"/><rect x="-8" y="209.4" width="16" height="23.3" fill="#d42a14" stroke="#3a0a05" stroke-width="1.5"/><circle cx="0" cy="232.7" r="13" fill="#d42a14" stroke="#3a0a05" stroke-width="2"/><circle cx="0" cy="232.7" r="5" fill="#f4f4f4"/></g>
<g transform="translate(1718.6,1720.8) rotate(22.6)"><rect x="-6" y="0" width="12" height="24" fill="#aaa" stroke="#555" stroke-width="1.5"/><circle cx="0" cy="0" r="10" fill="#c8c8c8" stroke="#555" stroke-width="2"/><circle cx="0" cy="0" r="3.5" fill="#fff" stroke="#555" stroke-width="1"/><rect x="-18.0" y="13" width="36.0" height="21" rx="3" fill="#8b49cf" stroke="#5a2a90" stroke-width="1.5"/><rect x="-14.0" y="16" width="26.0" height="6" fill="#a874e0"/><rect x="-17.0" y="34" width="34.0" height="14" fill="#c4c4c4" stroke="#555" stroke-width="1.2"/><circle cx="17.0" cy="42" r="6" fill="#9a9a9a" stroke="#444" stroke-width="1.2"/><rect x="-15.0" y="48.0" width="30.0" height="92.6" fill="#b4b4b8" stroke="#555" stroke-width="1.2"/><rect x="-9.0" y="48.0" width="10.8" height="92.6" fill="#dedee2"/><line x1="-21.0" y1="57.0" x2="21.0" y2="51.0" stroke="#3e3e3e" stroke-width="2.6"/><line x1="-21.0" y1="65.5" x2="21.0" y2="59.5" stroke="#3e3e3e" stroke-width="2.6"/><line x1="-21.0" y1="74.0" x2="21.0" y2="68.0" stroke="#3e3e3e" stroke-width="2.6"/><line x1="-21.0" y1="82.5" x2="21.0" y2="76.5" stroke="#3e3e3e" stroke-width="2.6"/><line x1="-21.0" y1="91.0" x2="21.0" y2="85.0" stroke="#3e3e3e" stroke-width="2.6"/><line x1="-21.0" y1="99.5" x2="21.0" y2="93.5" stroke="#3e3e3e" stroke-width="2.6"/><line x1="-21.0" y1="108.0" x2="21.0" y2="102.0" stroke="#3e3e3e" stroke-width="2.6"/><line x1="-21.0" y1="116.5" x2="21.0" y2="110.5" stroke="#3e3e3e" stroke-width="2.6"/><line x1="-21.0" y1="125.0" x2="21.0" y2="119.0" stroke="#3e3e3e" stroke-width="2.6"/><line x1="-21.0" y1="133.5" x2="21.0" y2="127.5" stroke="#3e3e3e" stroke-width="2.6"/><rect x="-18.0" y="138.6" width="36.0" height="11" fill="#8b49cf" stroke="#5a2a90" stroke-width="1.2"/><rect x="-3" y="149.6" width="6" height="86.6" fill="#c8864a"/><line x1="-21.0" y1="156.1" x2="21.0" y2="149.1" stroke="#4a4a4a" stroke-width="4.6"/><line x1="-19.0" y1="155.6" x2="19.0" y2="148.6" stroke="#f0f0f0" stroke-width="1.8"/><line x1="-21.0" y1="165.1" x2="21.0" y2="158.1" stroke="#4a4a4a" stroke-width="4.6"/><line x1="-19.0" y1="164.6" x2="19.0" y2="157.6" stroke="#f0f0f0" stroke-width="1.8"/><line x1="-21.0" y1="174.1" x2="21.0" y2="167.1" stroke="#4a4a4a" stroke-width="4.6"/><line x1="-19.0" y1="173.6" x2="19.0" y2="166.6" stroke="#f0f0f0" stroke-width="1.8"/><line x1="-21.0" y1="183.1" x2="21.0" y2="176.1" stroke="#4a4a4a" stroke-width="4.6"/><line x1="-19.0" y1="182.6" x2="19.0" y2="175.6" stroke="#f0f0f0" stroke-width="1.8"/><line x1="-21.0" y1="192.1" x2="21.0" y2="185.1" stroke="#4a4a4a" stroke-width="4.6"/><line x1="-19.0" y1="191.6" x2="19.0" y2="184.6" stroke="#f0f0f0" stroke-width="1.8"/><line x1="-21.0" y1="201.1" x2="21.0" y2="194.1" stroke="#4a4a4a" stroke-width="4.6"/><line x1="-19.0" y1="200.6" x2="19.0" y2="193.6" stroke="#f0f0f0" stroke-width="1.8"/><line x1="-21.0" y1="210.1" x2="21.0" y2="203.1" stroke="#4a4a4a" stroke-width="4.6"/><line x1="-19.0" y1="209.6" x2="19.0" y2="202.6" stroke="#f0f0f0" stroke-width="1.8"/><line x1="-21.0" y1="219.1" x2="21.0" y2="212.1" stroke="#4a4a4a" stroke-width="4.6"/><line x1="-19.0" y1="218.6" x2="19.0" y2="211.6" stroke="#f0f0f0" stroke-width="1.8"/><line x1="-21.0" y1="228.1" x2="21.0" y2="221.1" stroke="#4a4a4a" stroke-width="4.6"/><line x1="-19.0" y1="227.6" x2="19.0" y2="220.6" stroke="#f0f0f0" stroke-width="1.8"/><line x1="-21.0" y1="237.1" x2="21.0" y2="230.1" stroke="#4a4a4a" stroke-width="4.6"/><line x1="-19.0" y1="236.6" x2="19.0" y2="229.6" stroke="#f0f0f0" stroke-width="1.8"/><rect x="-13" y="236.1" width="26" height="22.5" fill="#d5d5d5" stroke="#666" stroke-width="1.2"/><rect x="-8" y="253.0" width="16" height="28.1" fill="#5a1212" stroke="#3a0a05" stroke-width="1.5"/><circle cx="0" cy="281.1" r="13" fill="#5a1212" stroke="#3a0a05" stroke-width="2"/><circle cx="0" cy="281.1" r="5" fill="#f4f4f4"/></g>
<circle cx="771.8" cy="617.0" r="10.0" fill="#a9a9a9" stroke="#555" stroke-width="1.8"/>
<circle cx="768.8" cy="614.0" r="4.0" fill="#d0d0d0"/>
<circle cx="663.3" cy="873.5" r="10.0" fill="#a9a9a9" stroke="#555" stroke-width="1.8"/>
<circle cx="660.3" cy="870.5" r="4.0" fill="#d0d0d0"/>
<circle cx="1504.0" cy="318.5" r="10.0" fill="#a9a9a9" stroke="#555" stroke-width="1.8"/>
<circle cx="1501.0" cy="315.5" r="4.0" fill="#d0d0d0"/>
<circle cx="1718.0" cy="537.5" r="11.0" fill="#a9a9a9" stroke="#555" stroke-width="1.8"/>
<circle cx="1714.7" cy="534.2" r="4.4" fill="#d0d0d0"/>
<circle cx="2627.4" cy="1320.4" r="10.0" fill="#a9a9a9" stroke="#555" stroke-width="1.8"/>
<circle cx="2624.4" cy="1317.4" r="4.0" fill="#d0d0d0"/>
<circle cx="2727.6" cy="1528.7" r="11.0" fill="#a9a9a9" stroke="#555" stroke-width="1.8"/>
<circle cx="2724.3" cy="1525.4" r="4.4" fill="#d0d0d0"/>
<circle cx="1755.0" cy="1754.5" r="10.0" fill="#a9a9a9" stroke="#555" stroke-width="1.8"/>
<circle cx="1752.0" cy="1751.5" r="4.0" fill="#d0d0d0"/>
<circle cx="1645.0" cy="2012.0" r="10.0" fill="#a9a9a9" stroke="#555" stroke-width="1.8"/>
<circle cx="1642.0" cy="2009.0" r="4.0" fill="#d0d0d0"/>
<line x1="727.0" y1="584.0" x2="747.0" y2="601.0" stroke="#666" stroke-width="7.5" stroke-linecap="round"/>
<line x1="727.0" y1="584.0" x2="747.0" y2="601.0" stroke="#9a9a9a" stroke-width="5.0" stroke-linecap="round"/>
<circle cx="727.0" cy="584.0" r="5.7" fill="#aaa" stroke="#555" stroke-width="1.5"/>
<line x1="618.0" y1="838.0" x2="639.0" y2="856.0" stroke="#666" stroke-width="7.5" stroke-linecap="round"/>
<line x1="618.0" y1="838.0" x2="639.0" y2="856.0" stroke="#9a9a9a" stroke-width="5.0" stroke-linecap="round"/>
<circle cx="618.0" cy="838.0" r="5.7" fill="#aaa" stroke="#555" stroke-width="1.5"/>
<line x1="1467.0" y1="286.0" x2="1486.0" y2="302.0" stroke="#666" stroke-width="7.5" stroke-linecap="round"/>
<line x1="1467.0" y1="286.0" x2="1486.0" y2="302.0" stroke="#9a9a9a" stroke-width="5.0" stroke-linecap="round"/>
<circle cx="1467.0" cy="286.0" r="5.7" fill="#aaa" stroke="#555" stroke-width="1.5"/>
<line x1="1578.0" y1="472.0" x2="1599.0" y2="491.0" stroke="#666" stroke-width="7.5" stroke-linecap="round"/>
<line x1="1578.0" y1="472.0" x2="1599.0" y2="491.0" stroke="#9a9a9a" stroke-width="5.0" stroke-linecap="round"/>
<circle cx="1578.0" cy="472.0" r="5.7" fill="#aaa" stroke="#555" stroke-width="1.5"/>
<line x1="1105.0" y1="334.0" x2="1126.0" y2="353.0" stroke="#666" stroke-width="7.5" stroke-linecap="round"/>
<line x1="1105.0" y1="334.0" x2="1126.0" y2="353.0" stroke="#9a9a9a" stroke-width="5.0" stroke-linecap="round"/>
<circle cx="1105.0" cy="334.0" r="5.7" fill="#aaa" stroke="#555" stroke-width="1.5"/>
<line x1="1194.0" y1="337.0" x2="1214.0" y2="357.0" stroke="#666" stroke-width="7.5" stroke-linecap="round"/>
<line x1="1194.0" y1="337.0" x2="1214.0" y2="357.0" stroke="#9a9a9a" stroke-width="5.0" stroke-linecap="round"/>
<circle cx="1194.0" cy="337.0" r="5.7" fill="#aaa" stroke="#555" stroke-width="1.5"/>
<line x1="1067.0" y1="434.0" x2="1088.0" y2="455.0" stroke="#666" stroke-width="7.5" stroke-linecap="round"/>
<line x1="1067.0" y1="434.0" x2="1088.0" y2="455.0" stroke="#9a9a9a" stroke-width="5.0" stroke-linecap="round"/>
<circle cx="1067.0" cy="434.0" r="5.7" fill="#aaa" stroke="#555" stroke-width="1.5"/>
<line x1="982.0" y1="412.0" x2="1003.0" y2="432.0" stroke="#666" stroke-width="7.5" stroke-linecap="round"/>
<line x1="982.0" y1="412.0" x2="1003.0" y2="432.0" stroke="#9a9a9a" stroke-width="5.0" stroke-linecap="round"/>
<circle cx="982.0" cy="412.0" r="5.7" fill="#aaa" stroke="#555" stroke-width="1.5"/>
<line x1="833.0" y1="422.0" x2="853.0" y2="442.0" stroke="#666" stroke-width="7.5" stroke-linecap="round"/>
<line x1="833.0" y1="422.0" x2="853.0" y2="442.0" stroke="#9a9a9a" stroke-width="5.0" stroke-linecap="round"/>
<circle cx="833.0" cy="422.0" r="5.7" fill="#aaa" stroke="#555" stroke-width="1.5"/>
<line x1="816.0" y1="456.0" x2="836.0" y2="476.0" stroke="#666" stroke-width="7.5" stroke-linecap="round"/>
<line x1="816.0" y1="456.0" x2="836.0" y2="476.0" stroke="#9a9a9a" stroke-width="5.0" stroke-linecap="round"/>
<circle cx="816.0" cy="456.0" r="5.7" fill="#aaa" stroke="#555" stroke-width="1.5"/>
<line x1="1377.0" y1="433.0" x2="1358.0" y2="412.0" stroke="#666" stroke-width="7.5" stroke-linecap="round"/>
<line x1="1377.0" y1="433.0" x2="1358.0" y2="412.0" stroke="#9a9a9a" stroke-width="5.0" stroke-linecap="round"/>
<circle cx="1377.0" cy="433.0" r="5.7" fill="#aaa" stroke="#555" stroke-width="1.5"/>
<line x1="1179.0" y1="745.0" x2="1160.0" y2="721.0" stroke="#666" stroke-width="7.5" stroke-linecap="round"/>
<line x1="1179.0" y1="745.0" x2="1160.0" y2="721.0" stroke="#9a9a9a" stroke-width="5.0" stroke-linecap="round"/>
<circle cx="1179.0" cy="745.0" r="5.7" fill="#aaa" stroke="#555" stroke-width="1.5"/>
<line x1="2251.0" y1="1422.0" x2="2271.0" y2="1442.0" stroke="#666" stroke-width="7.5" stroke-linecap="round"/>
<line x1="2251.0" y1="1422.0" x2="2271.0" y2="1442.0" stroke="#9a9a9a" stroke-width="5.0" stroke-linecap="round"/>
<circle cx="2251.0" cy="1422.0" r="5.7" fill="#aaa" stroke="#555" stroke-width="1.5"/>
<line x1="1928.0" y1="1602.0" x2="1948.0" y2="1622.0" stroke="#666" stroke-width="7.5" stroke-linecap="round"/>
<line x1="1928.0" y1="1602.0" x2="1948.0" y2="1622.0" stroke="#9a9a9a" stroke-width="5.0" stroke-linecap="round"/>
<circle cx="1928.0" cy="1602.0" r="5.7" fill="#aaa" stroke="#555" stroke-width="1.5"/>
<line x1="2381.0" y1="1813.0" x2="2358.0" y2="1788.0" stroke="#666" stroke-width="7.5" stroke-linecap="round"/>
<line x1="2381.0" y1="1813.0" x2="2358.0" y2="1788.0" stroke="#9a9a9a" stroke-width="5.0" stroke-linecap="round"/>
<circle cx="2381.0" cy="1813.0" r="5.7" fill="#aaa" stroke="#555" stroke-width="1.5"/>
<line x1="2295.0" y1="1867.0" x2="2273.0" y2="1842.0" stroke="#666" stroke-width="7.5" stroke-linecap="round"/>
<line x1="2295.0" y1="1867.0" x2="2273.0" y2="1842.0" stroke="#9a9a9a" stroke-width="5.0" stroke-linecap="round"/>
<circle cx="2295.0" cy="1867.0" r="5.7" fill="#aaa" stroke="#555" stroke-width="1.5"/>
<line x1="2448.0" y1="1851.0" x2="2425.0" y2="1825.0" stroke="#666" stroke-width="7.5" stroke-linecap="round"/>
<line x1="2448.0" y1="1851.0" x2="2425.0" y2="1825.0" stroke="#9a9a9a" stroke-width="5.0" stroke-linecap="round"/>
<circle cx="2448.0" cy="1851.0" r="5.7" fill="#aaa" stroke="#555" stroke-width="1.5"/>
<line x1="2317.0" y1="1941.0" x2="2294.0" y2="1917.0" stroke="#666" stroke-width="7.5" stroke-linecap="round"/>
<line x1="2317.0" y1="1941.0" x2="2294.0" y2="1917.0" stroke="#9a9a9a" stroke-width="5.0" stroke-linecap="round"/>
<circle cx="2317.0" cy="1941.0" r="5.7" fill="#aaa" stroke="#555" stroke-width="1.5"/>
<line x1="2657.0" y1="1358.0" x2="2641.0" y2="1340.0" stroke="#666" stroke-width="7.5" stroke-linecap="round"/>
<line x1="2657.0" y1="1358.0" x2="2641.0" y2="1340.0" stroke="#9a9a9a" stroke-width="5.0" stroke-linecap="round"/>
<circle cx="2657.0" cy="1358.0" r="5.7" fill="#aaa" stroke="#555" stroke-width="1.5"/>
<line x1="2768.0" y1="1556.0" x2="2748.0" y2="1541.0" stroke="#666" stroke-width="7.5" stroke-linecap="round"/>
<line x1="2768.0" y1="1556.0" x2="2748.0" y2="1541.0" stroke="#9a9a9a" stroke-width="5.0" stroke-linecap="round"/>
<circle cx="2768.0" cy="1556.0" r="5.7" fill="#aaa" stroke="#555" stroke-width="1.5"/>
<line x1="1789.0" y1="1791.0" x2="1772.0" y2="1771.0" stroke="#666" stroke-width="7.5" stroke-linecap="round"/>
<line x1="1789.0" y1="1791.0" x2="1772.0" y2="1771.0" stroke="#9a9a9a" stroke-width="5.0" stroke-linecap="round"/>
<circle cx="1789.0" cy="1791.0" r="5.7" fill="#aaa" stroke="#555" stroke-width="1.5"/>
<line x1="1687.0" y1="2039.0" x2="1666.0" y2="2025.0" stroke="#666" stroke-width="7.5" stroke-linecap="round"/>
<line x1="1687.0" y1="2039.0" x2="1666.0" y2="2025.0" stroke="#9a9a9a" stroke-width="5.0" stroke-linecap="round"/>
<circle cx="1687.0" cy="2039.0" r="5.7" fill="#aaa" stroke="#555" stroke-width="1.5"/>
<line x1="2242.0" y1="1166.0" x2="2223.0" y2="1141.0" stroke="#666" stroke-width="7.5" stroke-linecap="round"/>
<line x1="2242.0" y1="1166.0" x2="2223.0" y2="1141.0" stroke="#9a9a9a" stroke-width="5.0" stroke-linecap="round"/>
<circle cx="2242.0" cy="1166.0" r="5.7" fill="#aaa" stroke="#555" stroke-width="1.5"/>
<line x1="1884.0" y1="598.0" x2="1914.0" y2="602.0" stroke="#666" stroke-width="7.5" stroke-linecap="round"/>
<line x1="1884.0" y1="598.0" x2="1914.0" y2="602.0" stroke="#9a9a9a" stroke-width="5.0" stroke-linecap="round"/>
<circle cx="1884.0" cy="598.0" r="5.7" fill="#aaa" stroke="#555" stroke-width="1.5"/>
<line x1="864.0" y1="1047.0" x2="883.5" y2="1061.4" stroke="#666" stroke-width="7.5" stroke-linecap="round"/>
<line x1="864.0" y1="1047.0" x2="883.5" y2="1061.4" stroke="#9a9a9a" stroke-width="5.0" stroke-linecap="round"/>
<circle cx="864.0" cy="1047.0" r="5.7" fill="#aaa" stroke="#555" stroke-width="1.5"/>
<line x1="1276.0" y1="1514.0" x2="1244.0" y2="1506.5" stroke="#666" stroke-width="7.5" stroke-linecap="round"/>
<line x1="1276.0" y1="1514.0" x2="1244.0" y2="1506.5" stroke="#9a9a9a" stroke-width="5.0" stroke-linecap="round"/>
<circle cx="1276.0" cy="1514.0" r="5.7" fill="#aaa" stroke="#555" stroke-width="1.5"/>
<rect x="1789.0" y="1475.0" width="6" height="21.0" fill="#9a9a9a" stroke="#555" stroke-width="1"/>
<ellipse cx="1792.0" cy="1496.0" rx="7" ry="4" fill="#aaa" stroke="#555" stroke-width="1.2"/>
<rect x="1766.0" y="1507.0" width="6" height="21.0" fill="#9a9a9a" stroke="#555" stroke-width="1"/>
<ellipse cx="1769.0" cy="1528.0" rx="7" ry="4" fill="#aaa" stroke="#555" stroke-width="1.2"/>
<rect x="1907.0" y="1549.0" width="6" height="21.0" fill="#9a9a9a" stroke="#555" stroke-width="1"/>
<ellipse cx="1910.0" cy="1570.0" rx="7" ry="4" fill="#aaa" stroke="#555" stroke-width="1.2"/>
<rect x="1875.0" y="1570.0" width="6" height="23.0" fill="#9a9a9a" stroke="#555" stroke-width="1"/>
<ellipse cx="1878.0" cy="1593.0" rx="7" ry="4" fill="#aaa" stroke="#555" stroke-width="1.2"/>
<rect x="1645.0" y="680.0" width="6" height="19.0" fill="#d6d6d6" stroke="#888" stroke-width="1"/>
<rect x="1642.5" y="678.0" width="11" height="4" fill="#ccc" stroke="#888" stroke-width="1"/>
<rect x="1669.0" y="743.0" width="6" height="19.0" fill="#d6d6d6" stroke="#888" stroke-width="1"/>
<rect x="1666.5" y="741.0" width="11" height="4" fill="#ccc" stroke="#888" stroke-width="1"/>
<rect x="1628.0" y="756.0" width="6" height="19.0" fill="#d6d6d6" stroke="#888" stroke-width="1"/>
<rect x="1625.5" y="754.0" width="11" height="4" fill="#ccc" stroke="#888" stroke-width="1"/>
<rect x="1674.0" y="777.0" width="6" height="19.0" fill="#d6d6d6" stroke="#888" stroke-width="1"/>
<rect x="1671.5" y="775.0" width="11" height="4" fill="#ccc" stroke="#888" stroke-width="1"/>
<rect x="1536.0" y="839.0" width="6" height="19.0" fill="#d6d6d6" stroke="#888" stroke-width="1"/>
<rect x="1533.5" y="837.0" width="11" height="4" fill="#ccc" stroke="#888" stroke-width="1"/>
<line x1="1230.2" y1="588.1" x2="1295.2" y2="598.7" stroke="#222" stroke-width="1.5"/>
<line x1="2280.0" y1="1683.3" x2="2345.6" y2="1693.6" stroke="#222" stroke-width="1.5"/>
<line x1="1718.0" y1="1029.3" x2="1767.7" y2="1009.4" stroke="#222" stroke-width="1.5"/>
<line x1="1946.3" y1="1486.4" x2="2007.6" y2="1496.3" stroke="#222" stroke-width="1.5"/>
<line x1="1797.0" y1="1239.9" x2="1844.2" y2="1224.8" stroke="#222" stroke-width="1.5"/>
<line x1="1667.7" y1="1314.1" x2="1700.0" y2="1333.3" stroke="#222" stroke-width="1.5"/>
<line x1="1878.5" y1="1321.3" x2="1896.5" y2="1297.4" stroke="#222" stroke-width="1.5"/>
<line x1="1557.5" y1="913.7" x2="1569.5" y2="903.9" stroke="#222" stroke-width="1.5"/>
<rect x="714.6" y="318.9" width="89.5" height="24.5" fill="#fff" stroke="#3a3a3a" stroke-width="1.3"/>
<text x="717.8" y="338.9" class="lb" textLength="82.0" lengthAdjust="spacingAndGlyphs">RCT-P008</text>
<rect x="1223.2" y="207.1" width="89.5" height="24.5" fill="#fff" stroke="#3a3a3a" stroke-width="1.3"/>
<text x="1226.4" y="227.1" class="lb" textLength="82.0" lengthAdjust="spacingAndGlyphs">RCT-P008</text>
<rect x="1045.0" y="305.6" width="49.0" height="24.5" fill="#fff" stroke="#3a3a3a" stroke-width="1.3"/>
<text x="1048.4" y="325.6" class="lb" textLength="41.0" lengthAdjust="spacingAndGlyphs">S100</text>
<rect x="1152.0" y="304.6" width="49.0" height="24.5" fill="#fff" stroke="#3a3a3a" stroke-width="1.3"/>
<text x="1155.4" y="324.6" class="lb" textLength="41.0" lengthAdjust="spacingAndGlyphs">S060</text>
<rect x="958.6" y="374.6" width="49.0" height="24.5" fill="#fff" stroke="#3a3a3a" stroke-width="1.3"/>
<text x="962.0" y="394.6" class="lb" textLength="41.0" lengthAdjust="spacingAndGlyphs">S100</text>
<rect x="1085.0" y="416.5" width="49.0" height="24.5" fill="#fff" stroke="#3a3a3a" stroke-width="1.3"/>
<text x="1088.4" y="436.5" class="lb" textLength="41.0" lengthAdjust="spacingAndGlyphs">S060</text>
<rect x="770.0" y="422.0" width="49.0" height="24.5" fill="#fff" stroke="#3a3a3a" stroke-width="1.3"/>
<text x="773.4" y="442.0" class="lb" textLength="41.0" lengthAdjust="spacingAndGlyphs">S059</text>
<rect x="1388.0" y="425.0" width="49.0" height="24.5" fill="#fff" stroke="#3a3a3a" stroke-width="1.3"/>
<text x="1391.4" y="445.0" class="lb" textLength="41.0" lengthAdjust="spacingAndGlyphs">S030</text>
<rect x="1176.0" y="696.0" width="49.0" height="24.5" fill="#fff" stroke="#3a3a3a" stroke-width="1.3"/>
<text x="1179.4" y="716.0" class="lb" textLength="41.0" lengthAdjust="spacingAndGlyphs">S030</text>
<rect x="1259.0" y="607.0" width="89.5" height="24.5" fill="#fff" stroke="#3a3a3a" stroke-width="1.3"/>
<text x="1262.2" y="627.0" class="lb" textLength="82.0" lengthAdjust="spacingAndGlyphs">RCT-H001</text>
<rect x="662.5" y="554.3" width="49.0" height="24.5" fill="#fff" stroke="#3a3a3a" stroke-width="1.3"/>
<text x="665.9" y="574.3" class="lb" textLength="41.0" lengthAdjust="spacingAndGlyphs">S096</text>
<rect x="669.4" y="628.3" width="89.5" height="24.5" fill="#fff" stroke="#3a3a3a" stroke-width="1.3"/>
<text x="672.5" y="648.3" class="lb" textLength="82.0" lengthAdjust="spacingAndGlyphs">RCT-H015</text>
<rect x="633.2" y="742.7" width="89.5" height="24.5" fill="#fff" stroke="#3a3a3a" stroke-width="1.3"/>
<text x="636.4" y="762.7" class="lb" textLength="82.0" lengthAdjust="spacingAndGlyphs">RCT-T005</text>
<rect x="555.3" y="832.7" width="49.0" height="24.5" fill="#fff" stroke="#3a3a3a" stroke-width="1.3"/>
<text x="558.7" y="852.7" class="lb" textLength="41.0" lengthAdjust="spacingAndGlyphs">S063</text>
<rect x="573.3" y="891.8" width="89.5" height="24.5" fill="#fff" stroke="#3a3a3a" stroke-width="1.3"/>
<text x="576.4" y="911.8" class="lb" textLength="82.0" lengthAdjust="spacingAndGlyphs">RCT-H017</text>
<rect x="889.3" y="749.2" width="89.5" height="24.5" fill="#fff" stroke="#3a3a3a" stroke-width="1.3"/>
<text x="892.4" y="769.2" class="lb" textLength="82.0" lengthAdjust="spacingAndGlyphs">RCT-H010</text>
<rect x="1022.2" y="817.2" width="89.5" height="24.5" fill="#fff" stroke="#3a3a3a" stroke-width="1.3"/>
<text x="1025.4" y="837.2" class="lb" textLength="82.0" lengthAdjust="spacingAndGlyphs">RCT-H010</text>
<rect x="1399.0" y="515.0" width="89.5" height="24.5" fill="#fff" stroke="#3a3a3a" stroke-width="1.3"/>
<text x="1402.2" y="535.0" class="lb" textLength="82.0" lengthAdjust="spacingAndGlyphs">RCT-H010</text>
<rect x="1550.0" y="578.0" width="89.5" height="24.5" fill="#fff" stroke="#3a3a3a" stroke-width="1.3"/>
<text x="1553.2" y="598.0" class="lb" textLength="82.0" lengthAdjust="spacingAndGlyphs">RCT-H010</text>
<rect x="1488.0" y="259.0" width="49.0" height="24.5" fill="#fff" stroke="#3a3a3a" stroke-width="1.3"/>
<text x="1491.4" y="279.0" class="lb" textLength="41.0" lengthAdjust="spacingAndGlyphs">S096</text>
<rect x="1520.0" y="296.0" width="89.5" height="24.5" fill="#fff" stroke="#3a3a3a" stroke-width="1.3"/>
<text x="1523.2" y="316.0" class="lb" textLength="82.0" lengthAdjust="spacingAndGlyphs">RCT-H015</text>
<rect x="1645.0" y="391.0" width="89.5" height="24.5" fill="#fff" stroke="#3a3a3a" stroke-width="1.3"/>
<text x="1648.2" y="411.0" class="lb" textLength="82.0" lengthAdjust="spacingAndGlyphs">RCT-T005</text>
<rect x="1526.0" y="488.0" width="49.0" height="24.5" fill="#fff" stroke="#3a3a3a" stroke-width="1.3"/>
<text x="1529.4" y="508.0" class="lb" textLength="41.0" lengthAdjust="spacingAndGlyphs">S063</text>
<rect x="1731.0" y="510.0" width="89.5" height="24.5" fill="#fff" stroke="#3a3a3a" stroke-width="1.3"/>
<text x="1734.2" y="530.0" class="lb" textLength="82.0" lengthAdjust="spacingAndGlyphs">RCT-H017</text>
<rect x="1443.2" y="686.6" width="49.0" height="24.5" fill="#fff" stroke="#3a3a3a" stroke-width="1.3"/>
<text x="1447.1" y="706.6" class="lb" textLength="40.0" lengthAdjust="spacingAndGlyphs">E401</text>
<rect x="1661.4" y="674.6" width="49.0" height="24.5" fill="#fff" stroke="#3a3a3a" stroke-width="1.3"/>
<text x="1664.8" y="694.6" class="lb" textLength="41.0" lengthAdjust="spacingAndGlyphs">S101</text>
<rect x="1682.0" y="723.0" width="49.0" height="24.5" fill="#fff" stroke="#3a3a3a" stroke-width="1.3"/>
<text x="1685.4" y="743.0" class="lb" textLength="41.0" lengthAdjust="spacingAndGlyphs">S101</text>
<rect x="1571.0" y="752.6" width="49.0" height="24.5" fill="#fff" stroke="#3a3a3a" stroke-width="1.3"/>
<text x="1574.4" y="772.6" class="lb" textLength="41.0" lengthAdjust="spacingAndGlyphs">S007</text>
<rect x="1690.4" y="778.7" width="49.0" height="24.5" fill="#fff" stroke="#3a3a3a" stroke-width="1.3"/>
<text x="1693.8" y="798.7" class="lb" textLength="41.0" lengthAdjust="spacingAndGlyphs">S007</text>
<rect x="1480.2" y="829.4" width="49.0" height="24.5" fill="#fff" stroke="#3a3a3a" stroke-width="1.3"/>
<text x="1483.6" y="849.4" class="lb" textLength="41.0" lengthAdjust="spacingAndGlyphs">S101</text>
<rect x="1569.5" y="888.7" width="89.5" height="24.5" fill="#fff" stroke="#3a3a3a" stroke-width="1.3"/>
<text x="1572.7" y="908.7" class="lb" textLength="82.0" lengthAdjust="spacingAndGlyphs">RCT-P007</text>
<rect x="1364.2" y="914.4" width="60.5" height="24.5" fill="#fff" stroke="#3a3a3a" stroke-width="1.3"/>
<text x="1367.7" y="934.4" class="lb" textLength="52.3" lengthAdjust="spacingAndGlyphs">E003A</text>
<rect x="1860.6" y="558.3" width="49.0" height="24.5" fill="#fff" stroke="#3a3a3a" stroke-width="1.3"/>
<text x="1864.0" y="578.3" class="lb" textLength="41.0" lengthAdjust="spacingAndGlyphs">S029</text>
<rect x="1999.5" y="536.5" width="89.5" height="24.5" fill="#fff" stroke="#3a3a3a" stroke-width="1.3"/>
<text x="2002.7" y="556.5" class="lb" textLength="82.0" lengthAdjust="spacingAndGlyphs">RCT-T001</text>
<rect x="2153.5" y="466.4" width="89.5" height="24.5" fill="#fff" stroke="#3a3a3a" stroke-width="1.3"/>
<text x="2156.7" y="486.4" class="lb" textLength="82.0" lengthAdjust="spacingAndGlyphs">RCT-T001</text>
<rect x="1990.1" y="654.5" width="89.5" height="24.5" fill="#fff" stroke="#3a3a3a" stroke-width="1.3"/>
<text x="1993.2" y="674.5" class="lb" textLength="82.0" lengthAdjust="spacingAndGlyphs">RCT-P002</text>
<rect x="1842.5" y="721.6" width="89.5" height="24.5" fill="#fff" stroke="#3a3a3a" stroke-width="1.3"/>
<text x="1845.7" y="741.6" class="lb" textLength="82.0" lengthAdjust="spacingAndGlyphs">RCT-T001</text>
<rect x="1727.0" y="644.0" width="89.5" height="24.5" fill="#fff" stroke="#3a3a3a" stroke-width="1.3"/>
<text x="1730.2" y="664.0" class="lb" textLength="82.0" lengthAdjust="spacingAndGlyphs">RCT-H017</text>
<rect x="2310.0" y="393.0" width="89.5" height="24.5" fill="#fff" stroke="#3a3a3a" stroke-width="1.3"/>
<text x="2313.2" y="413.0" class="lb" textLength="82.0" lengthAdjust="spacingAndGlyphs">RCT-T001</text>
<rect x="2423.0" y="347.5" width="89.5" height="24.5" fill="#fff" stroke="#3a3a3a" stroke-width="1.3"/>
<text x="2426.2" y="367.5" class="lb" textLength="82.0" lengthAdjust="spacingAndGlyphs">RCT-T001</text>
<rect x="2619.0" y="399.0" width="89.5" height="24.5" fill="#fff" stroke="#3a3a3a" stroke-width="1.3"/>
<text x="2622.2" y="419.0" class="lb" textLength="82.0" lengthAdjust="spacingAndGlyphs">RCT-H017</text>
<rect x="2522.0" y="559.0" width="89.5" height="24.5" fill="#fff" stroke="#3a3a3a" stroke-width="1.3"/>
<text x="2525.2" y="579.0" class="lb" textLength="82.0" lengthAdjust="spacingAndGlyphs">RCT-T002</text>
<rect x="2428.0" y="612.6" width="89.5" height="24.5" fill="#fff" stroke="#3a3a3a" stroke-width="1.3"/>
<text x="2431.2" y="632.6" class="lb" textLength="82.0" lengthAdjust="spacingAndGlyphs">RCT-T002</text>
<rect x="2191.7" y="702.2" width="89.5" height="24.5" fill="#fff" stroke="#3a3a3a" stroke-width="1.3"/>
<text x="2194.8" y="722.2" class="lb" textLength="82.0" lengthAdjust="spacingAndGlyphs">RCT-T002</text>
<rect x="2012.6" y="768.7" width="89.5" height="24.5" fill="#fff" stroke="#3a3a3a" stroke-width="1.3"/>
<text x="2015.8" y="788.7" class="lb" textLength="82.0" lengthAdjust="spacingAndGlyphs">RCT-T002</text>
<rect x="1895.5" y="825.6" width="89.5" height="24.5" fill="#fff" stroke="#3a3a3a" stroke-width="1.3"/>
<text x="1898.7" y="845.6" class="lb" textLength="82.0" lengthAdjust="spacingAndGlyphs">RCT-T002</text>
<rect x="2167.6" y="904.3" width="89.5" height="24.5" fill="#fff" stroke="#3a3a3a" stroke-width="1.3"/>
<text x="2170.8" y="924.3" class="lb" textLength="82.0" lengthAdjust="spacingAndGlyphs">RCT-T002</text>
<rect x="2375.0" y="805.7" width="89.5" height="24.5" fill="#fff" stroke="#3a3a3a" stroke-width="1.3"/>
<text x="2378.2" y="825.7" class="lb" textLength="82.0" lengthAdjust="spacingAndGlyphs">RCT-T002</text>
<rect x="2544.0" y="782.0" width="89.5" height="24.5" fill="#fff" stroke="#3a3a3a" stroke-width="1.3"/>
<text x="2547.2" y="802.0" class="lb" textLength="82.0" lengthAdjust="spacingAndGlyphs">RCT-T002</text>
<rect x="2668.0" y="762.0" width="89.5" height="24.5" fill="#fff" stroke="#3a3a3a" stroke-width="1.3"/>
<text x="2671.2" y="782.0" class="lb" textLength="82.0" lengthAdjust="spacingAndGlyphs">RCT-T002</text>
<rect x="2103.6" y="998.5" width="89.5" height="24.5" fill="#fff" stroke="#3a3a3a" stroke-width="1.3"/>
<text x="2106.8" y="1018.5" class="lb" textLength="82.0" lengthAdjust="spacingAndGlyphs">RCT-P002</text>
<rect x="2243.0" y="1020.0" width="89.5" height="24.5" fill="#fff" stroke="#3a3a3a" stroke-width="1.3"/>
<text x="2246.2" y="1040.0" class="lb" textLength="82.0" lengthAdjust="spacingAndGlyphs">RCT-T001</text>
<rect x="2412.0" y="996.4" width="89.5" height="24.5" fill="#fff" stroke="#3a3a3a" stroke-width="1.3"/>
<text x="2415.2" y="1016.4" class="lb" textLength="82.0" lengthAdjust="spacingAndGlyphs">RCT-T001</text>
<rect x="2611.5" y="994.0" width="89.5" height="24.5" fill="#fff" stroke="#3a3a3a" stroke-width="1.3"/>
<text x="2614.7" y="1014.0" class="lb" textLength="82.0" lengthAdjust="spacingAndGlyphs">RCT-T001</text>
<rect x="2742.0" y="970.0" width="89.5" height="24.5" fill="#fff" stroke="#3a3a3a" stroke-width="1.3"/>
<text x="2745.2" y="990.0" class="lb" textLength="82.0" lengthAdjust="spacingAndGlyphs">RCT-T001</text>
<rect x="2875.0" y="1070.0" width="89.5" height="24.5" fill="#fff" stroke="#3a3a3a" stroke-width="1.3"/>
<text x="2878.2" y="1090.0" class="lb" textLength="82.0" lengthAdjust="spacingAndGlyphs">RCT-H017</text>
<rect x="1910.0" y="1054.6" width="89.5" height="24.5" fill="#fff" stroke="#3a3a3a" stroke-width="1.3"/>
<text x="1913.2" y="1074.6" class="lb" textLength="82.0" lengthAdjust="spacingAndGlyphs">RCT-H017</text>
<rect x="2003.0" y="1129.5" width="89.5" height="24.5" fill="#fff" stroke="#3a3a3a" stroke-width="1.3"/>
<text x="2006.2" y="1149.5" class="lb" textLength="82.0" lengthAdjust="spacingAndGlyphs">RCT-T001</text>
<rect x="2258.0" y="1140.8" width="49.0" height="24.5" fill="#fff" stroke="#3a3a3a" stroke-width="1.3"/>
<text x="2261.4" y="1160.8" class="lb" textLength="41.0" lengthAdjust="spacingAndGlyphs">S029</text>
<rect x="1775.0" y="998.0" width="89.5" height="24.5" fill="#fff" stroke="#3a3a3a" stroke-width="1.3"/>
<text x="1778.2" y="1018.0" class="lb" textLength="82.0" lengthAdjust="spacingAndGlyphs">RCT-H002</text>
<rect x="1761.5" y="1138.0" width="89.5" height="24.5" fill="#fff" stroke="#3a3a3a" stroke-width="1.3"/>
<text x="1764.7" y="1158.0" class="lb" textLength="82.0" lengthAdjust="spacingAndGlyphs">RCT-H014</text>
<rect x="1302.0" y="1211.8" width="89.5" height="24.5" fill="#fff" stroke="#3a3a3a" stroke-width="1.3"/>
<text x="1305.2" y="1231.8" class="lb" textLength="82.0" lengthAdjust="spacingAndGlyphs">RCT-H014</text>
<rect x="977.0" y="982.6" width="89.5" height="24.5" fill="#fff" stroke="#3a3a3a" stroke-width="1.3"/>
<text x="980.1" y="1002.6" class="lb" textLength="82.0" lengthAdjust="spacingAndGlyphs">RCT-H017</text>
<rect x="798.6" y="1042.0" width="49.0" height="24.5" fill="#fff" stroke="#3a3a3a" stroke-width="1.3"/>
<text x="802.0" y="1062.0" class="lb" textLength="41.0" lengthAdjust="spacingAndGlyphs">S029</text>
<rect x="862.3" y="1150.6" width="89.5" height="24.5" fill="#fff" stroke="#3a3a3a" stroke-width="1.3"/>
<text x="865.4" y="1170.6" class="lb" textLength="82.0" lengthAdjust="spacingAndGlyphs">RCT-P002</text>
<rect x="990.3" y="1112.3" width="89.5" height="24.5" fill="#fff" stroke="#3a3a3a" stroke-width="1.3"/>
<text x="993.4" y="1132.3" class="lb" textLength="82.0" lengthAdjust="spacingAndGlyphs">RCT-T001</text>
<rect x="1091.0" y="1083.7" width="89.5" height="24.5" fill="#fff" stroke="#3a3a3a" stroke-width="1.3"/>
<text x="1094.2" y="1103.7" class="lb" textLength="82.0" lengthAdjust="spacingAndGlyphs">RCT-T001</text>
<rect x="631.8" y="1234.5" width="89.5" height="24.5" fill="#fff" stroke="#3a3a3a" stroke-width="1.3"/>
<text x="634.9" y="1254.5" class="lb" textLength="82.0" lengthAdjust="spacingAndGlyphs">RCT-T001</text>
<rect x="454.0" y="1292.0" width="89.5" height="24.5" fill="#fff" stroke="#3a3a3a" stroke-width="1.3"/>
<text x="457.1" y="1312.0" class="lb" textLength="82.0" lengthAdjust="spacingAndGlyphs">RCT-T001</text>
<rect x="343.5" y="1333.0" width="89.5" height="24.5" fill="#fff" stroke="#3a3a3a" stroke-width="1.3"/>
<text x="346.6" y="1353.0" class="lb" textLength="82.0" lengthAdjust="spacingAndGlyphs">RCT-T001</text>
<rect x="174.5" y="1252.7" width="89.5" height="24.5" fill="#fff" stroke="#3a3a3a" stroke-width="1.3"/>
<text x="177.7" y="1272.7" class="lb" textLength="82.0" lengthAdjust="spacingAndGlyphs">RCT-H017</text>
<rect x="911.4" y="1286.4" width="89.5" height="24.5" fill="#fff" stroke="#3a3a3a" stroke-width="1.3"/>
<text x="914.5" y="1306.4" class="lb" textLength="82.0" lengthAdjust="spacingAndGlyphs">RCT-T002</text>
<rect x="717.0" y="1333.0" width="89.5" height="24.5" fill="#fff" stroke="#3a3a3a" stroke-width="1.3"/>
<text x="720.1" y="1353.0" class="lb" textLength="82.0" lengthAdjust="spacingAndGlyphs">RCT-T002</text>
<rect x="549.5" y="1390.7" width="89.5" height="24.5" fill="#fff" stroke="#3a3a3a" stroke-width="1.3"/>
<text x="552.6" y="1410.7" class="lb" textLength="82.0" lengthAdjust="spacingAndGlyphs">RCT-T002</text>
<rect x="342.5" y="1474.5" width="89.5" height="24.5" fill="#fff" stroke="#3a3a3a" stroke-width="1.3"/>
<text x="345.6" y="1494.5" class="lb" textLength="82.0" lengthAdjust="spacingAndGlyphs">RCT-T002</text>
<rect x="222.8" y="1517.4" width="89.5" height="24.5" fill="#fff" stroke="#3a3a3a" stroke-width="1.3"/>
<text x="226.0" y="1537.4" class="lb" textLength="82.0" lengthAdjust="spacingAndGlyphs">RCT-T002</text>
<rect x="905.8" y="1474.5" width="89.5" height="24.5" fill="#fff" stroke="#3a3a3a" stroke-width="1.3"/>
<text x="908.9" y="1494.5" class="lb" textLength="82.0" lengthAdjust="spacingAndGlyphs">RCT-T002</text>
<rect x="746.0" y="1590.0" width="89.5" height="24.5" fill="#fff" stroke="#3a3a3a" stroke-width="1.3"/>
<text x="749.1" y="1610.0" class="lb" textLength="82.0" lengthAdjust="spacingAndGlyphs">RCT-T002</text>
<rect x="626.0" y="1677.0" width="89.5" height="24.5" fill="#fff" stroke="#3a3a3a" stroke-width="1.3"/>
<text x="629.1" y="1697.0" class="lb" textLength="82.0" lengthAdjust="spacingAndGlyphs">RCT-T002</text>
<rect x="538.0" y="1741.7" width="89.5" height="24.5" fill="#fff" stroke="#3a3a3a" stroke-width="1.3"/>
<text x="541.1" y="1761.7" class="lb" textLength="82.0" lengthAdjust="spacingAndGlyphs">RCT-T002</text>
<rect x="1851.4" y="1218.3" width="49.0" height="24.5" fill="#fff" stroke="#3a3a3a" stroke-width="1.3"/>
<text x="1855.3" y="1238.3" class="lb" textLength="40.0" lengthAdjust="spacingAndGlyphs">E040</text>
<rect x="1660.5" y="1342.4" width="89.5" height="24.5" fill="#fff" stroke="#3a3a3a" stroke-width="1.3"/>
<text x="1663.7" y="1362.4" class="lb" textLength="82.0" lengthAdjust="spacingAndGlyphs">RCT-P007</text>
<rect x="1895.3" y="1282.5" width="89.5" height="24.5" fill="#fff" stroke="#3a3a3a" stroke-width="1.3"/>
<text x="1898.5" y="1302.5" class="lb" textLength="82.0" lengthAdjust="spacingAndGlyphs">RCT-P007</text>
<rect x="1440.0" y="1321.7" width="89.5" height="24.5" fill="#fff" stroke="#3a3a3a" stroke-width="1.3"/>
<text x="1443.2" y="1341.7" class="lb" textLength="82.0" lengthAdjust="spacingAndGlyphs">RCT-H011</text>
<rect x="1245.4" y="1371.0" width="89.5" height="24.5" fill="#fff" stroke="#3a3a3a" stroke-width="1.3"/>
<text x="1248.6" y="1391.0" class="lb" textLength="82.0" lengthAdjust="spacingAndGlyphs">RCT-T001</text>
<rect x="1197.0" y="1421.0" width="89.5" height="24.5" fill="#fff" stroke="#3a3a3a" stroke-width="1.3"/>
<text x="1200.2" y="1441.0" class="lb" textLength="82.0" lengthAdjust="spacingAndGlyphs">RCT-T001</text>
<rect x="1432.0" y="1445.0" width="89.5" height="24.5" fill="#fff" stroke="#3a3a3a" stroke-width="1.3"/>
<text x="1435.2" y="1465.0" class="lb" textLength="82.0" lengthAdjust="spacingAndGlyphs">RCT-H017</text>
<rect x="1295.7" y="1503.0" width="49.0" height="24.5" fill="#fff" stroke="#3a3a3a" stroke-width="1.3"/>
<text x="1299.1" y="1523.0" class="lb" textLength="41.0" lengthAdjust="spacingAndGlyphs">S029</text>
<rect x="1238.6" y="1564.6" width="89.5" height="24.5" fill="#fff" stroke="#3a3a3a" stroke-width="1.3"/>
<text x="1241.8" y="1584.6" class="lb" textLength="82.0" lengthAdjust="spacingAndGlyphs">RCT-P002</text>
<rect x="999.0" y="1616.0" width="89.5" height="24.5" fill="#fff" stroke="#3a3a3a" stroke-width="1.3"/>
<text x="1002.1" y="1636.0" class="lb" textLength="82.0" lengthAdjust="spacingAndGlyphs">RCT-T001</text>
<rect x="915.0" y="1872.0" width="89.5" height="24.5" fill="#fff" stroke="#3a3a3a" stroke-width="1.3"/>
<text x="918.1" y="1892.0" class="lb" textLength="82.0" lengthAdjust="spacingAndGlyphs">RCT-T001</text>
<rect x="706.0" y="1905.4" width="89.5" height="24.5" fill="#fff" stroke="#3a3a3a" stroke-width="1.3"/>
<text x="709.1" y="1925.4" class="lb" textLength="82.0" lengthAdjust="spacingAndGlyphs">RCT-T001</text>
<rect x="865.0" y="1994.0" width="89.5" height="24.5" fill="#fff" stroke="#3a3a3a" stroke-width="1.3"/>
<text x="868.1" y="2014.0" class="lb" textLength="82.0" lengthAdjust="spacingAndGlyphs">RCT-H017</text>
<rect x="1704.4" y="1503.5" width="49.0" height="24.5" fill="#fff" stroke="#3a3a3a" stroke-width="1.3"/>
<text x="1707.8" y="1523.5" class="lb" textLength="41.0" lengthAdjust="spacingAndGlyphs">S089</text>
<rect x="1921.5" y="1546.5" width="49.0" height="24.5" fill="#fff" stroke="#3a3a3a" stroke-width="1.3"/>
<text x="1924.9" y="1566.5" class="lb" textLength="41.0" lengthAdjust="spacingAndGlyphs">S089</text>
<rect x="1812.0" y="1578.5" width="49.0" height="24.5" fill="#fff" stroke="#3a3a3a" stroke-width="1.3"/>
<text x="1815.4" y="1598.5" class="lb" textLength="41.0" lengthAdjust="spacingAndGlyphs">S089</text>
<rect x="1955.4" y="1595.5" width="49.0" height="24.5" fill="#fff" stroke="#3a3a3a" stroke-width="1.3"/>
<text x="1958.8" y="1615.5" class="lb" textLength="41.0" lengthAdjust="spacingAndGlyphs">S030</text>
<rect x="2012.8" y="1487.8" width="89.5" height="24.5" fill="#fff" stroke="#3a3a3a" stroke-width="1.3"/>
<text x="2016.0" y="1507.8" class="lb" textLength="82.0" lengthAdjust="spacingAndGlyphs">RCT-H003</text>
<rect x="2263.0" y="1394.0" width="49.0" height="24.5" fill="#fff" stroke="#3a3a3a" stroke-width="1.3"/>
<text x="2266.4" y="1414.0" class="lb" textLength="41.0" lengthAdjust="spacingAndGlyphs">S030</text>
<rect x="2631.5" y="1284.6" width="89.5" height="24.5" fill="#fff" stroke="#3a3a3a" stroke-width="1.3"/>
<text x="2634.7" y="1304.6" class="lb" textLength="82.0" lengthAdjust="spacingAndGlyphs">RCT-H015</text>
<rect x="2672.2" y="1347.3" width="49.0" height="24.5" fill="#fff" stroke="#3a3a3a" stroke-width="1.3"/>
<text x="2675.6" y="1367.3" class="lb" textLength="41.0" lengthAdjust="spacingAndGlyphs">S096</text>
<rect x="2739.3" y="1485.2" width="89.5" height="24.5" fill="#fff" stroke="#3a3a3a" stroke-width="1.3"/>
<text x="2742.5" y="1505.2" class="lb" textLength="82.0" lengthAdjust="spacingAndGlyphs">RCT-H017</text>
<rect x="2776.3" y="1555.3" width="49.0" height="24.5" fill="#fff" stroke="#3a3a3a" stroke-width="1.3"/>
<text x="2779.7" y="1575.3" class="lb" textLength="41.0" lengthAdjust="spacingAndGlyphs">S063</text>
<rect x="2490.0" y="1606.0" width="89.5" height="24.5" fill="#fff" stroke="#3a3a3a" stroke-width="1.3"/>
<text x="2493.2" y="1626.0" class="lb" textLength="82.0" lengthAdjust="spacingAndGlyphs">RCT-P008</text>
<rect x="2309.5" y="1701.0" width="89.5" height="24.5" fill="#fff" stroke="#3a3a3a" stroke-width="1.3"/>
<text x="2312.7" y="1721.0" class="lb" textLength="82.0" lengthAdjust="spacingAndGlyphs">RCT-H001</text>
<rect x="2380.7" y="1769.5" width="49.0" height="24.5" fill="#fff" stroke="#3a3a3a" stroke-width="1.3"/>
<text x="2384.1" y="1789.5" class="lb" textLength="41.0" lengthAdjust="spacingAndGlyphs">S060</text>
<rect x="2296.5" y="1826.0" width="49.0" height="24.5" fill="#fff" stroke="#3a3a3a" stroke-width="1.3"/>
<text x="2299.9" y="1846.0" class="lb" textLength="41.0" lengthAdjust="spacingAndGlyphs">S060</text>
<rect x="2460.7" y="1835.6" width="49.0" height="24.5" fill="#fff" stroke="#3a3a3a" stroke-width="1.3"/>
<text x="2464.1" y="1855.6" class="lb" textLength="41.0" lengthAdjust="spacingAndGlyphs">S100</text>
<rect x="2332.7" y="1911.5" width="49.0" height="24.5" fill="#fff" stroke="#3a3a3a" stroke-width="1.3"/>
<text x="2336.1" y="1931.5" class="lb" textLength="41.0" lengthAdjust="spacingAndGlyphs">S100</text>
<rect x="2103.5" y="1911.0" width="89.5" height="24.5" fill="#fff" stroke="#3a3a3a" stroke-width="1.3"/>
<text x="2106.7" y="1931.0" class="lb" textLength="82.0" lengthAdjust="spacingAndGlyphs">RCT-P008</text>
<rect x="1760.2" y="1707.6" width="89.5" height="24.5" fill="#fff" stroke="#3a3a3a" stroke-width="1.3"/>
<text x="1763.4" y="1727.6" class="lb" textLength="82.0" lengthAdjust="spacingAndGlyphs">RCT-H015</text>
<rect x="1799.1" y="1777.3" width="49.0" height="24.5" fill="#fff" stroke="#3a3a3a" stroke-width="1.3"/>
<text x="1802.5" y="1797.3" class="lb" textLength="41.0" lengthAdjust="spacingAndGlyphs">S096</text>
<rect x="1544.4" y="1810.5" width="89.5" height="24.5" fill="#fff" stroke="#3a3a3a" stroke-width="1.3"/>
<text x="1547.6" y="1830.5" class="lb" textLength="82.0" lengthAdjust="spacingAndGlyphs">RCT-T005</text>
<rect x="1546.3" y="2026.7" width="89.5" height="24.5" fill="#fff" stroke="#3a3a3a" stroke-width="1.3"/>
<text x="1549.5" y="2046.7" class="lb" textLength="82.0" lengthAdjust="spacingAndGlyphs">RCT-H017</text>
<rect x="1697.5" y="2027.7" width="49.0" height="24.5" fill="#fff" stroke="#3a3a3a" stroke-width="1.3"/>
<text x="1700.9" y="2047.7" class="lb" textLength="41.0" lengthAdjust="spacingAndGlyphs">S063</text>
<text x="3229" y="2152" class="tt0" text-anchor="end" textLength="584" lengthAdjust="spacingAndGlyphs">CENTRE UNIT ASSEMBLY</text>
<text x="3229" y="2152" class="tt1" text-anchor="end" textLength="584" lengthAdjust="spacingAndGlyphs">CENTRE UNIT ASSEMBLY</text>
<text x="3231" y="2235" class="tt0" text-anchor="end" textLength="1238" lengthAdjust="spacingAndGlyphs">1/10TH&#160;&#160;SCALE ELECTRIC CRAWLER EXPLODED VIEW</text>
<text x="3231" y="2235" class="tt1" text-anchor="end" textLength="1238" lengthAdjust="spacingAndGlyphs">1/10TH&#160;&#160;SCALE ELECTRIC CRAWLER EXPLODED VIEW</text>
<text x="2704" y="2266" class="wm" textLength="552" lengthAdjust="spacingAndGlyphs">RCScrapyard.net</text>
</svg>
</body></html>
